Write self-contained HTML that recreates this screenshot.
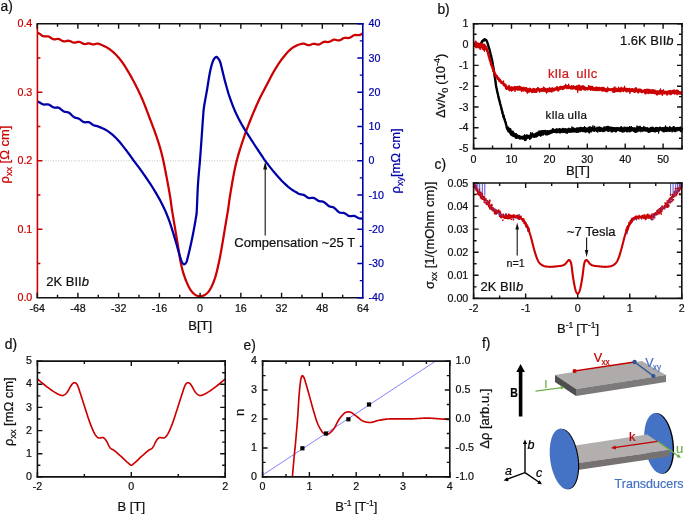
<!DOCTYPE html>
<html><head><meta charset="utf-8"><title>Figure</title>
<style>
html,body{margin:0;padding:0;background:#fff;}
body{width:685px;height:514px;overflow:hidden;}
svg{display:block;filter:blur(0.3px);font-family:"Liberation Sans",Arial,Helvetica,sans-serif;}
text{stroke-width:0.22px;stroke-linejoin:round;}
</style></head><body>
<svg width="685" height="514" viewBox="0 0 685 514">
<rect width="685" height="514" fill="#fff"/>
<line x1="37.4" y1="160.75" x2="362.8" y2="160.75" stroke="#aaa" stroke-width="0.7" stroke-dasharray="1 1.6"/>
<path d="M37.6 32.96 L38.35 33.15 L39.32 33.62 L40.48 34.42 L41.78 35.39 L43.18 36.15 L44.62 36.42 L46.07 36.32 L47.48 36.26 L48.8 36.56 L50 37.2 L51.1 37.95 L52.15 38.65 L53.18 39.14 L54.17 39.36 L55.15 39.34 L56.12 39.17 L57.08 38.99 L58.04 38.95 L59.01 39.12 L60 39.53 L61 40.11 L62 40.71 L63 41.18 L64 41.42 L65 41.39 L66 41.17 L67 40.9 L68 40.72 L69 40.77 L70 41.07 L71 41.55 L72 42.08 L73 42.51 L74 42.71 L75 42.66 L76 42.4 L77 42.06 L78 41.81 L79 41.78 L80 42.02 L81.01 42.5 L82.03 43.1 L83.06 43.65 L84.1 43.99 L85.12 44.06 L86.14 43.91 L87.15 43.66 L88.13 43.46 L89.08 43.42 L90 43.57 L90.88 43.88 L91.73 44.16 L92.55 44.35 L93.34 44.39 L94.12 44.31 L94.9 44.13 L95.66 43.93 L96.43 43.75 L97.21 43.67 L98 43.71 L98.81 43.9 L99.65 44.18 L100.49 44.49 L101.34 44.82 L102.19 45.17 L103.02 45.54 L103.82 45.92 L104.59 46.3 L105.32 46.66 L106 47 L106.62 47.32 L107.19 47.63 L107.72 47.94 L108.22 48.26 L108.69 48.57 L109.14 48.89 L109.59 49.22 L110.05 49.56 L110.51 49.92 L111 50.3 L111.5 50.7 L112 51.1 L112.5 51.52 L113 51.95 L113.5 52.39 L114 52.85 L114.5 53.32 L115 53.8 L115.5 54.29 L116 54.8 L116.5 55.32 L117 55.85 L117.5 56.39 L118 56.95 L118.5 57.52 L119 58.1 L119.5 58.7 L120 59.32 L120.5 59.95 L121 60.6 L121.49 61.25 L121.95 61.87 L122.41 62.49 L122.86 63.13 L123.31 63.79 L123.78 64.49 L124.28 65.24 L124.81 66.07 L125.38 66.99 L126 68 L126.68 69.12 L127.41 70.34 L128.18 71.64 L128.98 73 L129.81 74.43 L130.66 75.9 L131.51 77.41 L132.35 78.93 L133.19 80.47 L134 82 L134.8 83.53 L135.6 85.08 L136.4 86.64 L137.2 88.23 L138 89.84 L138.8 91.49 L139.6 93.18 L140.4 94.9 L141.2 96.68 L142 98.5 L142.8 100.39 L143.62 102.37 L144.43 104.4 L145.25 106.48 L146.06 108.59 L146.87 110.72 L147.67 112.83 L148.46 114.93 L149.24 116.99 L150 119 L150.75 120.97 L151.5 122.93 L152.24 124.87 L152.97 126.8 L153.69 128.72 L154.39 130.62 L155.08 132.49 L155.74 134.35 L156.39 136.19 L157 138 L157.59 139.77 L158.14 141.5 L158.68 143.18 L159.19 144.85 L159.69 146.5 L160.17 148.15 L160.64 149.82 L161.1 151.5 L161.55 153.23 L162 155 L162.44 156.81 L162.86 158.62 L163.27 160.46 L163.67 162.31 L164.06 164.19 L164.45 166.09 L164.83 168.02 L165.22 169.98 L165.6 171.97 L166 174 L166.41 176.11 L166.83 178.34 L167.26 180.63 L167.7 182.97 L168.12 185.31 L168.54 187.63 L168.95 189.89 L169.33 192.06 L169.68 194.11 L170 196 L170.28 197.71 L170.51 199.25 L170.72 200.66 L170.9 201.98 L171.06 203.25 L171.22 204.5 L171.39 205.76 L171.57 207.07 L171.77 208.47 L172 210 L172.26 211.64 L172.54 213.34 L172.83 215.11 L173.13 216.91 L173.44 218.75 L173.75 220.61 L174.07 222.47 L174.38 224.34 L174.7 226.18 L175 228 L175.3 229.8 L175.6 231.6 L175.9 233.4 L176.2 235.2 L176.5 237 L176.8 238.8 L177.1 240.6 L177.4 242.4 L177.7 244.2 L178 246 L178.3 247.82 L178.58 249.66 L178.87 251.53 L179.15 253.39 L179.44 255.25 L179.73 257.09 L180.03 258.89 L180.34 260.66 L180.66 262.36 L181 264 L181.35 265.58 L181.72 267.1 L182.09 268.59 L182.48 270.03 L182.88 271.44 L183.28 272.81 L183.69 274.15 L184.12 275.46 L184.56 276.74 L185 278 L185.46 279.25 L185.94 280.48 L186.43 281.69 L186.93 282.88 L187.44 284.03 L187.95 285.13 L188.47 286.19 L188.98 287.19 L189.5 288.13 L190 289 L190.5 289.8 L191 290.53 L191.5 291.2 L192 291.82 L192.5 292.39 L193 292.91 L193.5 293.38 L194 293.82 L194.5 294.23 L195 294.6 L195.5 294.94 L196 295.22 L196.5 295.47 L197 295.67 L197.5 295.84 L198 295.97 L198.5 296.07 L199 296.14 L199.5 296.18 L200 296.2 L200.5 296.2 L201 296.17 L201.5 296.12 L202 296.04 L202.5 295.93 L203 295.78 L203.5 295.6 L204 295.38 L204.5 295.11 L205 294.8 L205.5 294.46 L206 294.09 L206.5 293.69 L207 293.26 L207.5 292.78 L208 292.25 L208.5 291.67 L209 291.02 L209.5 290.3 L210 289.5 L210.5 288.62 L211.02 287.67 L211.53 286.65 L212.05 285.56 L212.56 284.42 L213.07 283.22 L213.57 281.98 L214.06 280.69 L214.54 279.36 L215 278 L215.44 276.58 L215.88 275.09 L216.31 273.53 L216.72 271.92 L217.12 270.28 L217.52 268.62 L217.91 266.94 L218.28 265.27 L218.65 263.62 L219 262 L219.34 260.41 L219.66 258.83 L219.97 257.26 L220.27 255.7 L220.56 254.12 L220.85 252.54 L221.13 250.95 L221.42 249.33 L221.7 247.68 L222 246 L222.3 244.28 L222.6 242.53 L222.9 240.75 L223.2 238.94 L223.5 237.12 L223.8 235.3 L224.1 233.46 L224.4 231.63 L224.7 229.81 L225 228 L225.3 226.18 L225.62 224.34 L225.93 222.47 L226.25 220.61 L226.56 218.75 L226.87 216.91 L227.17 215.11 L227.46 213.34 L227.74 211.64 L228 210 L228.23 208.48 L228.43 207.09 L228.61 205.79 L228.78 204.54 L228.94 203.31 L229.1 202.06 L229.28 200.74 L229.49 199.31 L229.72 197.75 L230 196 L230.32 194.04 L230.67 191.88 L231.05 189.57 L231.46 187.16 L231.88 184.69 L232.3 182.2 L232.74 179.74 L233.17 177.36 L233.59 175.1 L234 173 L234.39 171.07 L234.76 169.26 L235.12 167.55 L235.48 165.91 L235.85 164.31 L236.23 162.73 L236.62 161.13 L237.05 159.5 L237.5 157.79 L238 156 L238.54 154.11 L239.13 152.14 L239.74 150.13 L240.39 148.07 L241.05 146 L241.72 143.93 L242.4 141.87 L243.08 139.86 L243.75 137.89 L244.4 136 L245.03 134.19 L245.65 132.44 L246.26 130.74 L246.87 129.08 L247.49 127.44 L248.11 125.8 L248.75 124.15 L249.4 122.48 L250.09 120.77 L250.8 119 L251.55 117.17 L252.32 115.28 L253.13 113.35 L253.95 111.4 L254.79 109.44 L255.63 107.48 L256.48 105.54 L257.33 103.64 L258.17 101.79 L259 100 L259.82 98.27 L260.65 96.58 L261.47 94.93 L262.3 93.31 L263.13 91.72 L263.95 90.15 L264.77 88.6 L265.59 87.06 L266.4 85.53 L267.2 84 L267.99 82.48 L268.77 80.97 L269.55 79.48 L270.32 78 L271.08 76.53 L271.85 75.08 L272.62 73.66 L273.4 72.25 L274.19 70.86 L275 69.5 L275.82 68.15 L276.66 66.81 L277.5 65.49 L278.35 64.18 L279.21 62.89 L280.07 61.64 L280.93 60.42 L281.79 59.23 L282.65 58.09 L283.5 57 L284.35 55.95 L285.19 54.93 L286.03 53.94 L286.88 52.99 L287.72 52.08 L288.56 51.21 L289.41 50.39 L290.27 49.61 L291.13 48.88 L292 48.2 L292.89 47.57 L293.8 46.99 L294.73 46.45 L295.66 45.96 L296.59 45.51 L297.52 45.11 L298.43 44.76 L299.32 44.46 L300.18 44.21 L301 44 L301.77 43.81 L302.48 43.69 L303.15 43.65 L303.8 43.69 L304.44 43.82 L305.08 44.03 L305.74 44.29 L306.44 44.6 L307.19 44.9 L308 45.13 L308.87 45.21 L309.78 45.09 L310.72 44.75 L311.69 44.31 L312.69 43.94 L313.71 43.77 L314.76 43.85 L315.82 44.13 L316.91 44.46 L318 44.63 L319.13 44.47 L320.3 43.93 L321.52 43.13 L322.75 42.35 L324 41.85 L325.25 41.74 L326.48 41.89 L327.7 42.04 L328.87 41.95 L330 41.56 L331.08 40.98 L332.13 40.37 L333.15 39.91 L334.14 39.68 L335.12 39.72 L336.1 39.96 L337.06 40.25 L338.03 40.47 L339.01 40.48 L340 40.21 L340.99 39.69 L341.96 39.06 L342.92 38.45 L343.88 38 L344.85 37.77 L345.83 37.76 L346.82 37.89 L347.85 38.01 L348.9 37.97 L350 37.64 L351.2 36.97 L352.52 36.05 L353.93 35.27 L355.38 34.95 L356.82 35.06 L358.22 35.23 L359.52 35.1 L360.68 34.61 L361.65 34 L362.4 33.47" fill="none" stroke="#cc0000" stroke-width="2.25" stroke-linejoin="round" stroke-linecap="butt" />
<path d="M37.6 101.76 L38.35 101.89 L39.32 102.28 L40.48 102.98 L41.78 103.84 L43.18 104.48 L44.62 104.65 L46.07 104.45 L47.48 104.32 L48.8 104.57 L50 105.2 L51.1 105.97 L52.15 106.7 L53.18 107.24 L54.17 107.52 L55.15 107.57 L56.12 107.51 L57.08 107.46 L58.04 107.56 L59.01 107.91 L60 108.53 L61 109.34 L62 110.21 L63 110.98 L64 111.53 L65 111.84 L66 111.98 L67 112.08 L68 112.3 L69 112.76 L70 113.47 L71.01 114.41 L72.03 115.46 L73.06 116.43 L74.1 117.19 L75.12 117.67 L76.14 117.95 L77.15 118.15 L78.13 118.41 L79.08 118.83 L80 119.42 L80.89 120.1 L81.76 120.81 L82.61 121.44 L83.44 121.93 L84.25 122.22 L85.04 122.34 L85.81 122.31 L86.56 122.21 L87.29 122.11 L88 122.1 L88.65 122.18 L89.23 122.35 L89.76 122.59 L90.26 122.89 L90.75 123.26 L91.26 123.66 L91.82 124.1 L92.45 124.56 L93.17 125.01 L94 125.41 L94.97 125.71 L96.05 125.92 L97.22 126.18 L98.46 126.58 L99.75 127.13 L101.06 127.66 L102.36 128.2 L103.63 128.77 L104.85 129.37 L106 130 L107.08 130.66 L108.13 131.34 L109.15 132.05 L110.14 132.79 L111.12 133.56 L112.1 134.37 L113.06 135.21 L114.03 136.1 L115.01 137.02 L116 138 L117.01 139.04 L118.03 140.16 L119.06 141.34 L120.1 142.56 L121.12 143.81 L122.14 145.08 L123.15 146.35 L124.13 147.6 L125.08 148.82 L126 150 L126.89 151.15 L127.76 152.31 L128.61 153.47 L129.44 154.62 L130.25 155.75 L131.04 156.86 L131.81 157.95 L132.56 159.01 L133.29 160.03 L134 161 L134.68 161.92 L135.33 162.78 L135.95 163.6 L136.54 164.39 L137.12 165.16 L137.7 165.91 L138.26 166.66 L138.83 167.42 L139.41 168.19 L140 169 L140.6 169.83 L141.2 170.66 L141.8 171.5 L142.4 172.34 L143 173.19 L143.6 174.04 L144.2 174.9 L144.8 175.76 L145.4 176.63 L146 177.5 L146.6 178.38 L147.2 179.25 L147.8 180.13 L148.4 181.02 L149 181.91 L149.6 182.8 L150.2 183.71 L150.8 184.63 L151.4 185.56 L152 186.5 L152.61 187.47 L153.23 188.48 L153.86 189.51 L154.5 190.55 L155.12 191.59 L155.74 192.63 L156.35 193.65 L156.93 194.64 L157.48 195.6 L158 196.5 L158.48 197.35 L158.93 198.14 L159.35 198.9 L159.74 199.63 L160.12 200.34 L160.5 201.05 L160.86 201.76 L161.23 202.48 L161.61 203.22 L162 204 L162.4 204.8 L162.8 205.6 L163.2 206.41 L163.6 207.23 L164 208.06 L164.4 208.91 L164.8 209.77 L165.2 210.66 L165.6 211.56 L166 212.5 L166.4 213.44 L166.78 214.38 L167.17 215.33 L167.55 216.29 L167.94 217.28 L168.33 218.31 L168.73 219.38 L169.14 220.52 L169.56 221.72 L170 223 L170.46 224.37 L170.94 225.82 L171.43 227.35 L171.93 228.93 L172.44 230.56 L172.95 232.23 L173.47 233.92 L173.98 235.62 L174.5 237.31 L175 239 L175.51 240.74 L176.05 242.6 L176.6 244.52 L177.15 246.48 L177.69 248.42 L178.22 250.31 L178.73 252.1 L179.2 253.76 L179.63 255.24 L180 256.5 L180.31 257.54 L180.57 258.39 L180.79 259.07 L180.97 259.63 L181.12 260.09 L181.27 260.47 L181.41 260.8 L181.55 261.11 L181.71 261.44 L181.9 261.8 L182.11 262.18 L182.32 262.55 L182.54 262.89 L182.76 263.21 L182.99 263.5 L183.21 263.75 L183.44 263.96 L183.66 264.13 L183.88 264.24 L184.1 264.3 L184.32 264.3 L184.54 264.23 L184.76 264.12 L184.99 263.95 L185.21 263.75 L185.42 263.52 L185.63 263.26 L185.83 262.98 L186.02 262.69 L186.2 262.4 L186.35 262.13 L186.48 261.89 L186.6 261.65 L186.7 261.4 L186.79 261.11 L186.9 260.78 L187.01 260.37 L187.14 259.86 L187.3 259.25 L187.5 258.5 L187.73 257.61 L187.99 256.57 L188.28 255.43 L188.58 254.19 L188.9 252.88 L189.23 251.52 L189.55 250.13 L189.88 248.73 L190.2 247.35 L190.5 246 L190.79 244.67 L191.09 243.33 L191.38 241.97 L191.67 240.6 L191.96 239.22 L192.25 237.82 L192.54 236.39 L192.83 234.95 L193.11 233.49 L193.4 232 L193.69 230.44 L194 228.77 L194.32 227.03 L194.63 225.26 L194.94 223.5 L195.24 221.78 L195.52 220.13 L195.78 218.59 L196.01 217.2 L196.2 216 L196.35 215.09 L196.45 214.48 L196.52 214.09 L196.57 213.84 L196.6 213.62 L196.62 213.36 L196.65 212.96 L196.68 212.32 L196.73 211.37 L196.8 210 L196.89 208.2 L196.99 206.05 L197.09 203.61 L197.2 200.94 L197.31 198.12 L197.43 195.22 L197.56 192.28 L197.7 189.39 L197.84 186.61 L198 184 L198.17 181.51 L198.36 179.04 L198.55 176.59 L198.76 174.16 L198.98 171.75 L199.19 169.36 L199.4 166.99 L199.61 164.64 L199.81 162.31 L200 160 L200.18 157.71 L200.35 155.44 L200.52 153.19 L200.68 150.96 L200.84 148.75 L200.99 146.56 L201.15 144.39 L201.3 142.24 L201.45 140.11 L201.6 138 L201.75 135.88 L201.9 133.73 L202.05 131.57 L202.19 129.42 L202.34 127.31 L202.48 125.26 L202.62 123.28 L202.75 121.39 L202.88 119.63 L203 118 L203.11 116.56 L203.19 115.32 L203.27 114.23 L203.33 113.24 L203.4 112.31 L203.48 111.4 L203.57 110.46 L203.68 109.44 L203.82 108.3 L204 107 L204.22 105.55 L204.47 104 L204.75 102.37 L205.06 100.68 L205.38 98.94 L205.7 97.16 L206.04 95.36 L206.37 93.56 L206.69 91.77 L207 90 L207.3 88.21 L207.6 86.35 L207.9 84.45 L208.2 82.54 L208.5 80.62 L208.8 78.74 L209.1 76.92 L209.4 75.17 L209.7 73.52 L210 72 L210.3 70.58 L210.6 69.24 L210.9 67.97 L211.2 66.76 L211.5 65.62 L211.8 64.56 L212.1 63.56 L212.4 62.64 L212.7 61.79 L213 61 L213.3 60.29 L213.62 59.67 L213.93 59.12 L214.25 58.64 L214.56 58.23 L214.87 57.88 L215.17 57.59 L215.46 57.35 L215.74 57.15 L216 57 L216.24 56.91 L216.46 56.89 L216.67 56.94 L216.87 57.05 L217.06 57.2 L217.25 57.39 L217.43 57.6 L217.62 57.83 L217.8 58.07 L218 58.3 L218.2 58.52 L218.4 58.75 L218.6 58.98 L218.8 59.24 L219 59.51 L219.2 59.82 L219.4 60.16 L219.6 60.55 L219.8 61 L220 61.5 L220.2 62.06 L220.39 62.68 L220.59 63.36 L220.78 64.07 L220.97 64.83 L221.17 65.61 L221.37 66.43 L221.57 67.27 L221.78 68.13 L222 69 L222.22 69.91 L222.46 70.87 L222.7 71.88 L222.94 72.92 L223.19 73.97 L223.44 75.02 L223.68 76.07 L223.93 77.09 L224.17 78.07 L224.4 79 L224.63 79.88 L224.85 80.74 L225.07 81.56 L225.29 82.37 L225.51 83.16 L225.73 83.93 L225.95 84.7 L226.16 85.46 L226.38 86.23 L226.6 87 L226.81 87.75 L227.01 88.46 L227.19 89.14 L227.38 89.82 L227.57 90.5 L227.77 91.2 L227.99 91.94 L228.23 92.72 L228.49 93.57 L228.8 94.5 L229.14 95.53 L229.52 96.65 L229.93 97.84 L230.36 99.08 L230.81 100.35 L231.27 101.64 L231.74 102.91 L232.2 104.16 L232.66 105.36 L233.1 106.5 L233.54 107.58 L233.97 108.64 L234.41 109.67 L234.85 110.69 L235.29 111.68 L235.74 112.66 L236.18 113.61 L236.62 114.56 L237.06 115.48 L237.5 116.4 L237.94 117.3 L238.38 118.19 L238.83 119.05 L239.27 119.91 L239.72 120.74 L240.16 121.56 L240.6 122.37 L241.04 123.16 L241.47 123.94 L241.9 124.7 L242.3 125.42 L242.68 126.06 L243.03 126.67 L243.37 127.25 L243.73 127.84 L244.09 128.44 L244.49 129.09 L244.94 129.8 L245.43 130.6 L246 131.5 L246.64 132.52 L247.35 133.64 L248.11 134.85 L248.92 136.11 L249.76 137.43 L250.61 138.76 L251.48 140.11 L252.34 141.44 L253.18 142.74 L254 144 L254.82 145.25 L255.68 146.55 L256.56 147.87 L257.44 149.2 L258.31 150.5 L259.16 151.76 L259.97 152.97 L260.72 154.09 L261.4 155.11 L262 156 L262.48 156.72 L262.82 157.27 L263.08 157.68 L263.27 158 L263.44 158.28 L263.61 158.56 L263.82 158.87 L264.1 159.27 L264.48 159.8 L265 160.5 L265.65 161.37 L266.4 162.36 L267.23 163.45 L268.12 164.62 L269.06 165.84 L270.04 167.1 L271.04 168.37 L272.04 169.62 L273.03 170.84 L274 172 L274.96 173.13 L275.94 174.28 L276.93 175.43 L277.93 176.58 L278.94 177.72 L279.95 178.84 L280.97 179.94 L281.98 181 L283 182.02 L284 183 L284.99 183.93 L285.97 184.83 L286.94 185.7 L287.9 186.54 L288.88 187.35 L289.86 188.13 L290.85 188.89 L291.87 189.61 L292.92 190.32 L294 191 L295.12 191.65 L296.27 192.3 L297.45 193.01 L298.66 193.68 L299.88 194.18 L301.1 194.44 L302.34 194.6 L303.57 194.88 L304.79 195.48 L306 196.4 L307.2 197.29 L308.4 197.89 L309.6 198.1 L310.8 197.98 L312 197.79 L313.2 197.8 L314.4 198.17 L315.6 198.9 L316.8 199.8 L318 200.63 L319.21 201.18 L320.43 201.4 L321.66 201.47 L322.9 201.64 L324.12 202.16 L325.34 203.06 L326.55 204.19 L327.73 205.27 L328.88 206.09 L330 206.56 L331.08 206.79 L332.13 206.97 L333.15 207.28 L334.14 207.82 L335.12 208.6 L336.1 209.56 L337.06 210.57 L338.03 211.49 L339.01 212.19 L340 212.61 L340.99 212.76 L341.96 212.77 L342.92 212.8 L343.88 212.97 L344.85 213.35 L345.83 213.94 L346.82 214.66 L347.85 215.39 L348.9 215.96 L350 216.24 L351.2 216.22 L352.52 215.99 L353.93 215.92 L355.38 216.32 L356.82 217.15 L358.22 218 L359.52 218.49 L360.68 218.57 L361.65 218.43 L362.4 218.27" fill="none" stroke="#0000a8" stroke-width="2.25" stroke-linejoin="round" stroke-linecap="butt" />
<line x1="37.4" y1="23.7" x2="37.4" y2="297.8" stroke="#cc0000" stroke-width="1.6" />
<path d="M37.4 229.28L42.4 229.28M37.4 160.75L42.4 160.75M37.4 92.23L42.4 92.23" stroke="#cc0000" stroke-width="1.4" fill="none"/>
<path d="M37.4 263.54L40.4 263.54M37.4 195.01L40.4 195.01M37.4 126.49L40.4 126.49M37.4 57.96L40.4 57.96" stroke="#cc0000" stroke-width="1.4" fill="none"/>
<line x1="37.4" y1="23.7" x2="362.8" y2="23.7" stroke="#111" stroke-width="1.6" stroke-linecap="square"/>
<line x1="37.4" y1="297.8" x2="362.8" y2="297.8" stroke="#111" stroke-width="1.6" stroke-linecap="square"/>
<path d="M37.16 23.7L37.16 28.7M77.89 23.7L77.89 28.7M118.63 23.7L118.63 28.7M159.36 23.7L159.36 28.7M200.1 23.7L200.1 28.7M240.84 23.7L240.84 28.7M281.57 23.7L281.57 28.7M322.31 23.7L322.31 28.7" stroke="#111" stroke-width="1.4" fill="none"/>
<path d="M57.52 23.7L57.52 26.7M98.26 23.7L98.26 26.7M139 23.7L139 26.7M179.73 23.7L179.73 26.7M220.47 23.7L220.47 26.7M261.2 23.7L261.2 26.7M301.94 23.7L301.94 26.7M342.68 23.7L342.68 26.7" stroke="#111" stroke-width="1.4" fill="none"/>
<path d="M37.16 297.8L37.16 292.8M77.89 297.8L77.89 292.8M118.63 297.8L118.63 292.8M159.36 297.8L159.36 292.8M200.1 297.8L200.1 292.8M240.84 297.8L240.84 292.8M281.57 297.8L281.57 292.8M322.31 297.8L322.31 292.8" stroke="#111" stroke-width="1.4" fill="none"/>
<path d="M57.52 297.8L57.52 294.8M98.26 297.8L98.26 294.8M139 297.8L139 294.8M179.73 297.8L179.73 294.8M220.47 297.8L220.47 294.8M261.2 297.8L261.2 294.8M301.94 297.8L301.94 294.8M342.68 297.8L342.68 294.8" stroke="#111" stroke-width="1.4" fill="none"/>
<line x1="362.8" y1="22.9" x2="362.8" y2="298.6" stroke="#0000a8" stroke-width="1.6" />
<path d="M362.8 297.8L357.3 297.8M362.8 263.54L357.3 263.54M362.8 229.28L357.3 229.28M362.8 195.01L357.3 195.01M362.8 160.75L357.3 160.75M362.8 126.49L357.3 126.49M362.8 92.22L357.3 92.22M362.8 57.96L357.3 57.96M362.8 23.7L357.3 23.7" stroke="#0000a8" stroke-width="1.4" fill="none"/>
<path d="M362.8 280.67L359.8 280.67M362.8 246.41L359.8 246.41M362.8 212.14L359.8 212.14M362.8 177.88L359.8 177.88M362.8 143.62L359.8 143.62M362.8 109.36L359.8 109.36M362.8 75.09L359.8 75.09M362.8 40.83L359.8 40.83" stroke="#0000a8" stroke-width="1.4" fill="none"/>
<text x="37.16" y="312.2" font-size="10.7" fill="#111" stroke="#111" text-anchor="middle" >-64</text>
<text x="77.89" y="312.2" font-size="10.7" fill="#111" stroke="#111" text-anchor="middle" >-48</text>
<text x="118.63" y="312.2" font-size="10.7" fill="#111" stroke="#111" text-anchor="middle" >-32</text>
<text x="159.36" y="312.2" font-size="10.7" fill="#111" stroke="#111" text-anchor="middle" >-16</text>
<text x="200.1" y="312.2" font-size="10.7" fill="#111" stroke="#111" text-anchor="middle" >0</text>
<text x="240.84" y="312.2" font-size="10.7" fill="#111" stroke="#111" text-anchor="middle" >16</text>
<text x="281.57" y="312.2" font-size="10.7" fill="#111" stroke="#111" text-anchor="middle" >32</text>
<text x="322.31" y="312.2" font-size="10.7" fill="#111" stroke="#111" text-anchor="middle" >48</text>
<text x="363.04" y="312.2" font-size="10.7" fill="#111" stroke="#111" text-anchor="middle" >64</text>
<text x="32.3" y="301.4" font-size="10.7" fill="#cc0000" stroke="#cc0000" text-anchor="end" >0.0</text>
<text x="32.3" y="232.88" font-size="10.7" fill="#cc0000" stroke="#cc0000" text-anchor="end" >0.1</text>
<text x="32.3" y="164.35" font-size="10.7" fill="#cc0000" stroke="#cc0000" text-anchor="end" >0.2</text>
<text x="32.3" y="95.83" font-size="10.7" fill="#cc0000" stroke="#cc0000" text-anchor="end" >0.3</text>
<text x="32.3" y="27.3" font-size="10.7" fill="#cc0000" stroke="#cc0000" text-anchor="end" >0.4</text>
<text x="368.5" y="301.4" font-size="10.7" fill="#0000a8" stroke="#0000a8" text-anchor="start" >-40</text>
<text x="368.5" y="267.14" font-size="10.7" fill="#0000a8" stroke="#0000a8" text-anchor="start" >-30</text>
<text x="368.5" y="232.88" font-size="10.7" fill="#0000a8" stroke="#0000a8" text-anchor="start" >-20</text>
<text x="368.5" y="198.61" font-size="10.7" fill="#0000a8" stroke="#0000a8" text-anchor="start" >-10</text>
<text x="368.5" y="164.35" font-size="10.7" fill="#0000a8" stroke="#0000a8" text-anchor="start" >0</text>
<text x="368.5" y="130.09" font-size="10.7" fill="#0000a8" stroke="#0000a8" text-anchor="start" >10</text>
<text x="368.5" y="95.82" font-size="10.7" fill="#0000a8" stroke="#0000a8" text-anchor="start" >20</text>
<text x="368.5" y="61.56" font-size="10.7" fill="#0000a8" stroke="#0000a8" text-anchor="start" >30</text>
<text x="368.5" y="27.3" font-size="10.7" fill="#0000a8" stroke="#0000a8" text-anchor="start" >40</text>
<text x="200.2" y="330" font-size="13" fill="#111" stroke="#111" text-anchor="middle" >B[T]</text>
<text x="0" y="0" font-size="13" fill="#cc0000" stroke="#cc0000" text-anchor="start" transform="translate(8.8 183.5) rotate(-90)" >ρ<tspan font-size="9" dy="3">xx</tspan><tspan dy="-3"> [Ω cm]</tspan></text>
<text x="0" y="0" font-size="13" fill="#0000a8" stroke="#0000a8" text-anchor="start" transform="translate(399.5 193.5) rotate(-90)" >ρ<tspan font-size="9" dy="3">xy</tspan><tspan dy="-3">[mΩ cm]</tspan></text>
<text x="46.3" y="286" font-size="13" fill="#111" stroke="#111" text-anchor="start" >2K BII<tspan font-style="italic">b</tspan></text>
<text x="234.3" y="247" font-size="13" fill="#111" stroke="#111" text-anchor="start" >Compensation ~25 T</text>
<line x1="265.2" y1="168.5" x2="265.2" y2="235.5" stroke="#111" stroke-width="1.1" />
<path d="M265.2 161.5 L263.2 169.5 L267.2 169.5 Z" fill="#111"/>
<text x="0.6" y="10.8" font-size="13.8" fill="#111" stroke="#111" text-anchor="start" >a)</text>
<path d="M473.6 23.8L473.6 28.8M511.5 23.8L511.5 28.8M549.4 23.8L549.4 28.8M587.3 23.8L587.3 28.8M625.2 23.8L625.2 28.8M663.1 23.8L663.1 28.8" stroke="#111" stroke-width="1.4" fill="none"/>
<path d="M492.55 23.8L492.55 26.8M530.45 23.8L530.45 26.8M568.35 23.8L568.35 26.8M606.25 23.8L606.25 26.8M644.15 23.8L644.15 26.8M682.05 23.8L682.05 26.8" stroke="#111" stroke-width="1.4" fill="none"/>
<path d="M473.6 148.6L473.6 143.6M511.5 148.6L511.5 143.6M549.4 148.6L549.4 143.6M587.3 148.6L587.3 143.6M625.2 148.6L625.2 143.6M663.1 148.6L663.1 143.6" stroke="#111" stroke-width="1.4" fill="none"/>
<path d="M492.55 148.6L492.55 145.6M530.45 148.6L530.45 145.6M568.35 148.6L568.35 145.6M606.25 148.6L606.25 145.6M644.15 148.6L644.15 145.6M682.05 148.6L682.05 145.6" stroke="#111" stroke-width="1.4" fill="none"/>
<path d="M473.6 148.6L478.6 148.6M473.6 127.8L478.6 127.8M473.6 107L478.6 107M473.6 86.2L478.6 86.2M473.6 65.4L478.6 65.4M473.6 44.6L478.6 44.6M473.6 23.8L478.6 23.8" stroke="#111" stroke-width="1.4" fill="none"/>
<path d="M473.6 138.2L476.6 138.2M473.6 117.4L476.6 117.4M473.6 96.6L476.6 96.6M473.6 75.8L476.6 75.8M473.6 55L476.6 55M473.6 34.2L476.6 34.2" stroke="#111" stroke-width="1.4" fill="none"/>
<path d="M682 148.6L677 148.6M682 127.8L677 127.8M682 107L677 107M682 86.2L677 86.2M682 65.4L677 65.4M682 44.6L677 44.6M682 23.8L677 23.8" stroke="#111" stroke-width="1.4" fill="none"/>
<path d="M682 138.2L679 138.2M682 117.4L679 117.4M682 96.6L679 96.6M682 75.8L679 75.8M682 55L679 55M682 34.2L679 34.2" stroke="#111" stroke-width="1.4" fill="none"/>
<path d="M474.4 45.61 L474.85 45.73 L475.3 45.38 L475.75 45.64 L476.2 45.81 L476.65 45.59 L477.1 45.94 L477.55 45 L478 45.22 L478.45 44.78 L478.9 44.53 L479.35 44.46 L479.8 44.26 L480.25 43.96 L480.7 43.59 L481.15 43.71 L481.6 42.68 L482.05 41.25 L482.5 41.37 L482.95 40.65 L483.4 40.28 L483.85 40.59 L484.3 39.85 L484.75 39.18 L485.2 40.02 L485.65 39.98 L486.1 39.99 L486.55 40.65 L487 41.61 L487.45 42.9 L487.9 44.02 L488.35 45.75 L488.8 48 L489.25 48.7 L489.7 50.36 L490.15 52.24 L490.6 54.36 L491.05 55.46 L491.5 58.16 L491.95 59.38 L492.4 61.84 L492.85 64.7 L493.3 67.05 L493.75 69.89 L494.2 73.07 L494.65 76 L495.1 78.75 L495.55 81.87 L496 85.48 L496.45 87.75 L496.9 89.78 L497.35 92.36 L497.8 93.61 L498.25 95.91 L498.7 97.96 L499.15 99.57 L499.6 101.19 L500.05 103.32 L500.5 104.79 L500.95 106.51 L501.4 108.04 L501.85 110.49 L502.3 111.42 L502.75 113.56 L503.2 114.82 L503.65 116.15 L504.1 118.06 L504.55 119.48 L505 120.95 L505.45 121.86 L505.9 123.71 L506.35 125.59 L506.8 126.4" fill="none" stroke="#000" stroke-width="2.4" stroke-linejoin="round" stroke-linecap="butt" />
<path d="M506.8 126.4 L507.25 127.77 L507.7 129.03 L508.15 129.03 L508.6 130.95 L509.05 129.03 L509.5 130.62 L509.95 129.49 L510.4 132.55 L510.85 132.51 L511.3 134.18 L511.75 133.08 L512.2 132.26 L512.65 135.12 L513.1 133.5 L513.55 133.86 L514 134.96 L514.45 135.83 L514.9 135.21 L515.35 135.95 L515.8 134.6 L516.25 137.49 L516.7 136.31 L517.15 136.61 L517.6 137.11 L518.05 136.94 L518.5 137.1 L518.95 136.37 L519.4 137.09 L519.85 137.6 L520.3 138.12 L520.75 137.3 L521.2 137.49 L521.65 137.69 L522.1 137.86 L522.55 137.58 L523 137.2 L523.45 136.97 L523.9 138.15 L524.35 137.47 L524.8 137.2 L525.25 139.72 L525.7 137.69 L526.15 137.58 L526.6 136.96 L527.05 135.98 L527.5 137.49 L527.95 136.46 L528.4 136.46 L528.85 137.08 L529.3 136.95 L529.75 136.26 L530.2 135.97 L530.65 137.42 L531.1 136.16 L531.55 134.84 L532 136.06 L532.45 135.49 L532.9 135.29 L533.35 135.67 L533.8 135.22 L534.25 136.44 L534.7 134.98 L535.15 134.91 L535.6 135.48 L536.05 134.07 L536.5 135.13 L536.95 134.21 L537.4 135.02 L537.85 133.38 L538.3 134.21 L538.75 132.58 L539.2 133.33 L539.65 133.56 L540.1 133.8 L540.55 134.8 L541 134.59 L541.45 132.11 L541.9 132.44 L542.35 133.86 L542.8 133.15 L543.25 131.71 L543.7 133.02 L544.15 131.73 L544.6 131.86 L545.05 131.48 L545.5 132.16 L545.95 133.98 L546.4 132.51 L546.85 132.08 L547.3 133.98 L547.75 131.7 L548.2 131.87 L548.65 131.73 L549.1 132.19 L549.55 131.59 L550 132.86 L550.45 131.51 L550.9 132.1 L551.35 131.8 L551.8 130.94 L552.25 130.81 L552.7 131.46 L553.15 129.74 L553.6 131.42 L554.05 131.43 L554.5 131.44 L554.95 131.23 L555.4 131.52 L555.85 130.95 L556.3 131.66 L556.75 129.92 L557.2 131.79 L557.65 130.41 L558.1 131.4 L558.55 130.66 L559 130.66 L559.45 130.36 L559.9 131.92 L560.35 130.08 L560.8 129.96 L561.25 131 L561.7 131.01 L562.15 130.82 L562.6 130.04 L563.05 130.25 L563.5 131.4 L563.95 129.92 L564.4 131.13 L564.85 131.19 L565.3 130.73 L565.75 129.7 L566.2 132.01 L566.65 130.66 L567.1 130.69 L567.55 130.24 L568 129.79 L568.45 130.28 L568.9 130.6 L569.35 129.8 L569.8 130.5 L570.25 131.25 L570.7 130.69 L571.15 130.27 L571.6 131.11 L572.05 130.99 L572.5 130.95 L572.95 129.66 L573.4 128.88 L573.85 130.81 L574.3 130.24 L574.75 129.9 L575.2 130.52 L575.65 129.8 L576.1 129.66 L576.55 131.45 L577 128.89 L577.45 130.69 L577.9 130.8 L578.35 131.35 L578.8 130.19 L579.25 130.37 L579.7 129.28 L580.15 129.97 L580.6 128.36 L581.05 129.49 L581.5 129.88 L581.95 129.8 L582.4 129.5 L582.85 130.71 L583.3 128.64 L583.75 129.91 L584.2 129.5 L584.65 129.8 L585.1 129.8 L585.55 131.2 L586 128.93 L586.45 130.71 L586.9 130.74 L587.35 129.58 L587.8 129.2 L588.25 128.72 L588.7 128.98 L589.15 131.13 L589.6 127.97 L590.05 129.91 L590.5 129.04 L590.95 130.96 L591.4 129.77 L591.85 128.51 L592.3 129.12 L592.75 129.64 L593.2 129.57 L593.65 128.76 L594.1 129.25 L594.55 129.11 L595 129.8 L595.45 129.64 L595.9 129.59 L596.35 128.97 L596.8 129.99 L597.25 128.98 L597.7 128.77 L598.15 129.06 L598.6 129.13 L599.05 129.14 L599.5 127.92 L599.95 130.37 L600.4 129.81 L600.85 130.33 L601.3 129.04 L601.75 129.89 L602.2 129.47 L602.65 129.34 L603.1 130.65 L603.55 128.86 L604 129.73 L604.45 128 L604.9 129.71 L605.35 129.16 L605.8 128.52 L606.25 128.83 L606.7 127.69 L607.15 128.47 L607.6 129.39 L608.05 127.29 L608.5 130.06 L608.95 129.98 L609.4 128.68 L609.85 128.13 L610.3 128.19 L610.75 128.28 L611.2 128.67 L611.65 130.85 L612.1 128.38 L612.55 129.79 L613 130.15 L613.45 128.51 L613.9 129.02 L614.35 129.72 L614.8 128.72 L615.25 130.14 L615.7 130.81 L616.15 129.17 L616.6 128.59 L617.05 129.65 L617.5 129.45 L617.95 128.64 L618.4 129.1 L618.85 129.27 L619.3 129.58 L619.75 130.06 L620.2 128.84 L620.65 128.23 L621.1 127.99 L621.55 130.59 L622 128.89 L622.45 128.9 L622.9 131.05 L623.35 130.04 L623.8 130.89 L624.25 129.08 L624.7 128.7 L625.15 128.82 L625.6 129.71 L626.05 129.54 L626.5 129.53 L626.95 130.92 L627.4 130.25 L627.85 128.42 L628.3 129.57 L628.75 129.69 L629.2 128.69 L629.65 130.99 L630.1 129.94 L630.55 130.39 L631 128.86 L631.45 128.41 L631.9 129.84 L632.35 129.13 L632.8 128.84 L633.25 129.22 L633.7 129.44 L634.15 129.4 L634.6 129.14 L635.05 129.65 L635.5 131.48 L635.95 130.19 L636.4 128.93 L636.85 130.85 L637.3 128.96 L637.75 128.16 L638.2 128.29 L638.65 127.8 L639.1 130.2 L639.55 128.51 L640 128.27 L640.45 128.92 L640.9 129.2 L641.35 128.42 L641.8 128.92 L642.25 129.35 L642.7 129.85 L643.15 128.65 L643.6 129.79 L644.05 129.56 L644.5 129.78 L644.95 128.97 L645.4 128.5 L645.85 130.1 L646.3 129.82 L646.75 128.88 L647.2 128.8 L647.65 129.91 L648.1 130.9 L648.55 129.66 L649 131.29 L649.45 129.63 L649.9 129.65 L650.35 129.76 L650.8 130.21 L651.25 128.26 L651.7 129.51 L652.15 130.35 L652.6 128.22 L653.05 129.58 L653.5 129.96 L653.95 130.69 L654.4 130.57 L654.85 129.37 L655.3 130.95 L655.75 128.56 L656.2 128.34 L656.65 130.4 L657.1 129.9 L657.55 128.53 L658 130.21 L658.45 130.04 L658.9 129.94 L659.35 129.05 L659.8 128.42 L660.25 128.11 L660.7 129.22 L661.15 129.27 L661.6 129 L662.05 128.96 L662.5 130.08 L662.95 128.52 L663.4 128.82 L663.85 130.87 L664.3 128.89 L664.75 128.89 L665.2 130.17 L665.65 128.01 L666.1 130.59 L666.55 128.4 L667 128.73 L667.45 128.39 L667.9 128.64 L668.35 128.8 L668.8 130.06 L669.25 129.3 L669.7 130.39 L670.15 129.93 L670.6 128.41 L671.05 129.36 L671.5 128.88 L671.95 129.02 L672.4 129.43 L672.85 129.62 L673.3 129.66 L673.75 127.73 L674.2 129.21 L674.65 128.98 L675.1 130.72 L675.55 129.14 L676 129.29 L676.45 129.32 L676.9 129.9 L677.35 128.45 L677.8 129.21 L678.25 129.22 L678.7 129.29 L679.15 129.11 L679.6 128.89 L680.05 129.37 L680.5 128.3 L680.95 130.52 L681.4 129.29 L681.85 127.92" fill="none" stroke="#000" stroke-width="3.2" stroke-linejoin="round" stroke-linecap="butt" />
<path d="M474.4 45.66 L474.7 46.33 L475 45 L475.3 46.14 L475.6 45.37 L475.9 45.35 L476.2 46.63 L476.5 45.56 L476.8 45.4 L477.1 45.83 L477.4 46.02 L477.7 45.26 L478 45.55 L478.3 44.51 L478.6 44.74 L478.9 44.54 L479.2 43.82 L479.5 43.51 L479.8 43.21 L480.1 43.8 L480.4 43.58 L480.7 43.22 L481 43.14 L481.3 41.94 L481.6 42.33 L481.9 42.14 L482.2 42.08 L482.5 40.79 L482.8 40.77 L483.1 39.52 L483.4 40.16 L483.7 38.91 L484 39.19 L484.3 40.59 L484.6 38.55 L484.9 40.35 L485.2 40.11 L485.5 39.82 L485.8 40.44 L486.1 40.72 L486.4 41.37 L486.7 41.09 L487 41.48 L487.3 42.17 L487.6 42.71 L487.9 44.14 L488.2 44.71 L488.5 46.92 L488.8 46.23 L489.1 47.77 L489.4 48.96 L489.7 49.39 L490 52.91 L490.3 51.43 L490.6 53.8 L490.9 54.8 L491.2 57.32 L491.5 56.47 L491.8 59.73 L492.1 60.16 L492.4 62.11 L492.7 63.46 L493 65.97 L493.3 66.67 L493.6 69.13 L493.9 71.25 L494.2 74.02 L494.5 73.36 L494.8 77.62 L495.1 79.28 L495.4 80.58 L495.7 83.21 L496 84.73 L496.3 87.78 L496.6 88.53 L496.9 89.74 L497.2 91.13 L497.5 92.49 L497.8 93.82 L498.1 94.68 L498.4 97.71 L498.7 96.58 L499 96.8 L499.3 100.11 L499.6 101.31 L499.9 102.82 L500.2 103.47 L500.5 104.74 L500.8 106.67 L501.1 108.83 L501.4 107.68 L501.7 108.9 L502 113.67 L502.3 112.46 L502.6 111.07 L502.9 117.38 L503.2 115.93 L503.5 114.78 L503.8 114.89 L504.1 118.3 L504.4 117.54 L504.7 118.21 L505 118.83 L505.3 121.07 L505.6 124.58 L505.9 123 L506.2 122.21 L506.5 126.39 L506.8 126.14 L507.1 128.06 L507.4 129.25 L507.7 127.64 L508 128.23 L508.3 128.91 L508.6 127.66 L508.9 131.02 L509.2 132.57 L509.5 131.07 L509.8 130.81 L510.1 131.15 L510.4 130.68 L510.7 130.98 L511 131.96 L511.3 131.56 L511.6 132.51 L511.9 130.98 L512.2 134.34 L512.5 134.12 L512.8 132.43 L513.1 130.83 L513.4 134.7 L513.7 136.68 L514 133.92 L514.3 134.5 L514.6 134.52 L514.9 136.64 L515.2 134.27 L515.5 137.45 L515.8 135.52 L516.1 137.61 L516.4 136.3 L516.7 135.99 L517 134.1 L517.3 135.47 L517.6 136.25 L517.9 137.82 L518.2 137.25 L518.5 135.83 L518.8 137.68 L519.1 138.69 L519.4 136.94 L519.7 136.54 L520 136.66 L520.3 138.64 L520.6 138.24 L520.9 135.92 L521.2 138.02 L521.5 136.67 L521.8 136.24 L522.1 139.42 L522.4 138.74 L522.7 136.25 L523 137.52 L523.3 138.17 L523.6 136.32 L523.9 137.12 L524.2 138.34 L524.5 134.37 L524.8 137.71 L525.1 138.32 L525.4 137.89 L525.7 134.88 L526 137.48 L526.3 135.52 L526.6 137.75 L526.9 137.74 L527.2 137.05 L527.5 135.41 L527.8 135.62 L528.1 137.86 L528.4 134.98 L528.7 137.14 L529 137.09 L529.3 135.75 L529.6 139.95 L529.9 136.15 L530.2 139.39 L530.5 132.66 L530.8 132.21 L531.1 137.3 L531.4 136.67 L531.7 135.07 L532 135.41 L532.3 132.37 L532.6 134.34 L532.9 133.61 L533.2 134.84 L533.5 136.54 L533.8 135.13 L534.1 135.57 L534.4 133.79 L534.7 134.13 L535 134.94 L535.3 134.23 L535.6 136.63 L535.9 133.13 L536.2 137.48 L536.5 132.8 L536.8 135.99 L537.1 132.98 L537.4 136.77 L537.7 134.27 L538 134.61 L538.3 135.09 L538.6 132.8 L538.9 132.07 L539.2 130.42 L539.5 135.54 L539.8 132.39 L540.1 132.49 L540.4 133.31 L540.7 136.47 L541 130.45 L541.3 133.55 L541.6 132.45 L541.9 133.86 L542.2 130.07 L542.5 132.25 L542.8 134.17 L543.1 135.26 L543.4 135.27 L543.7 131.29 L544 132.69 L544.3 132.37 L544.6 130.3 L544.9 130.15 L545.2 133.61 L545.5 132.75 L545.8 132.08 L546.1 134.21 L546.4 130.62 L546.7 133.03 L547 132.16 L547.3 132.01 L547.6 132.85 L547.9 132.3 L548.2 132.41 L548.5 132.37 L548.8 135.01 L549.1 131.38 L549.4 133.46 L549.7 132.78 L550 131.21 L550.3 133.01 L550.6 130.34 L550.9 133.53 L551.2 130.35 L551.5 130.83 L551.8 132.1 L552.1 132.89 L552.4 132.98 L552.7 132.93 L553 131.14 L553.3 129.91 L553.6 132.29 L553.9 131.87 L554.2 129.83 L554.5 132.89 L554.8 131.62 L555.1 129.75 L555.4 131.96 L555.7 129.11 L556 129.8 L556.3 131.82 L556.6 128.66 L556.9 131.19 L557.2 128.94 L557.5 132.26 L557.8 129.9 L558.1 131.33 L558.4 128.61 L558.7 130.45 L559 132.49 L559.3 131.69 L559.6 128 L559.9 132.4 L560.2 132.33 L560.5 130.28 L560.8 133.13 L561.1 129.15 L561.4 130.69 L561.7 132.6 L562 132.89 L562.3 132.83 L562.6 129.01 L562.9 127.9 L563.2 131.36 L563.5 128.43 L563.8 130.49 L564.1 128.64 L564.4 132.37 L564.7 131.94 L565 131.53 L565.3 130.66 L565.6 130.69 L565.9 130.12 L566.2 131.2 L566.5 130.97 L566.8 131.29 L567.1 129.85 L567.4 133.56 L567.7 130.96 L568 132.73 L568.3 132.61 L568.6 129.06 L568.9 127.76 L569.2 132.45 L569.5 129.8 L569.8 130.54 L570.1 129.98 L570.4 130.59 L570.7 128.46 L571 130.19 L571.3 129.59 L571.6 130.3 L571.9 126.57 L572.2 131.61 L572.5 130.81 L572.8 127.5 L573.1 129.08 L573.4 130.29 L573.7 131.23 L574 130.21 L574.3 132.41 L574.6 130.22 L574.9 128.57 L575.2 129.07 L575.5 131.33 L575.8 129.15 L576.1 131.46 L576.4 131.74 L576.7 131.03 L577 131.71 L577.3 129.79 L577.6 130.04 L577.9 129.09 L578.2 129.05 L578.5 127.51 L578.8 129.11 L579.1 128.28 L579.4 127.69 L579.7 130.2 L580 130.68 L580.3 129.4 L580.6 132.12 L580.9 131.42 L581.2 131.58 L581.5 128.93 L581.8 127.5 L582.1 130.76 L582.4 130.35 L582.7 131.01 L583 130.5 L583.3 131.84 L583.6 129.35 L583.9 130.87 L584.2 128.36 L584.5 126.09 L584.8 129.06 L585.1 132.16 L585.4 127.07 L585.7 131.36 L586 128.64 L586.3 129.07 L586.6 129.77 L586.9 130.03 L587.2 128.12 L587.5 129.87 L587.8 130.36 L588.1 130.98 L588.4 128.42 L588.7 132.1 L589 132.66 L589.3 133.46 L589.6 127.44 L589.9 129.85 L590.2 126.59 L590.5 130.16 L590.8 130.43 L591.1 127.7 L591.4 126.99 L591.7 129.82 L592 130.52 L592.3 128.23 L592.6 129.08 L592.9 125.44 L593.2 128.35 L593.5 129.71 L593.8 129.71 L594.1 131.99 L594.4 127.62 L594.7 125.84 L595 130.16 L595.3 128.48 L595.6 129.88 L595.9 130.57 L596.2 130.38 L596.5 131.72 L596.8 131.57 L597.1 126.73 L597.4 129.29 L597.7 132.59 L598 128.73 L598.3 130.93 L598.6 129.28 L598.9 128.7 L599.2 131.9 L599.5 131.03 L599.8 128.97 L600.1 130.8 L600.4 127.25 L600.7 128.18 L601 130.78 L601.3 129.4 L601.6 127.63 L601.9 130.05 L602.2 129.85 L602.5 131.37 L602.8 130.85 L603.1 128.87 L603.4 128.53 L603.7 129.08 L604 128.93 L604.3 131.64 L604.6 131.83 L604.9 131.46 L605.2 129.89 L605.5 128.89 L605.8 130.72 L606.1 128.72 L606.4 129.65 L606.7 126.6 L607 128.59 L607.3 131.57 L607.6 127.62 L607.9 126.87 L608.2 128.99 L608.5 131.92 L608.8 131.57 L609.1 128.67 L609.4 128.48 L609.7 129.07 L610 127.75 L610.3 129.3 L610.6 128.76 L610.9 126.87 L611.2 128.3 L611.5 128.82 L611.8 127.85 L612.1 127.43 L612.4 130.67 L612.7 132.26 L613 128.76 L613.3 128.54 L613.6 130.02 L613.9 128.85 L614.2 127.96 L614.5 131.44 L614.8 127.55 L615.1 128.04 L615.4 128.15 L615.7 127.79 L616 128.83 L616.3 130.13 L616.6 131.51 L616.9 130.26 L617.2 129.26 L617.5 127.2 L617.8 129.1 L618.1 127.7 L618.4 129.05 L618.7 130.77 L619 129.53 L619.3 128.86 L619.6 128 L619.9 129.16 L620.2 129.38 L620.5 127.72 L620.8 128.39 L621.1 130.61 L621.4 126.55 L621.7 128.49 L622 127.34 L622.3 131.68 L622.6 130.17 L622.9 130.03 L623.2 129.84 L623.5 129.67 L623.8 129.68 L624.1 126.68 L624.4 129.63 L624.7 130.17 L625 126.93 L625.3 130.54 L625.6 130.29 L625.9 126.79 L626.2 128.47 L626.5 128.73 L626.8 128.39 L627.1 129.86 L627.4 127.19 L627.7 128.88 L628 129.6 L628.3 130.4 L628.6 129.32 L628.9 128.86 L629.2 130.35 L629.5 126.07 L629.8 130.75 L630.1 128.76 L630.4 127.26 L630.7 128.57 L631 126.33 L631.3 125.99 L631.6 128.74 L631.9 128.03 L632.2 130.45 L632.5 127.86 L632.8 127.21 L633.1 127.75 L633.4 132.03 L633.7 129.33 L634 128.31 L634.3 127.71 L634.6 127.54 L634.9 129.03 L635.2 129.98 L635.5 131.15 L635.8 131.14 L636.1 129.74 L636.4 128.26 L636.7 127.94 L637 125.62 L637.3 127.69 L637.6 130 L637.9 128.78 L638.2 129.92 L638.5 127.17 L638.8 130.77 L639.1 129.81 L639.4 129.41 L639.7 129.98 L640 125.77 L640.3 128.45 L640.6 127.91 L640.9 132.25 L641.2 129.06 L641.5 128.55 L641.8 130.72 L642.1 127.67 L642.4 131.64 L642.7 128.24 L643 129.27 L643.3 127.9 L643.6 130.66 L643.9 125.9 L644.2 130.48 L644.5 128.07 L644.8 129.46 L645.1 127.54 L645.4 129.75 L645.7 129.68 L646 130.33 L646.3 129.89 L646.6 130.39 L646.9 130.98 L647.2 128.77 L647.5 127.51 L647.8 127.35 L648.1 130.48 L648.4 128.79 L648.7 131.08 L649 129.47 L649.3 127.78 L649.6 130.85 L649.9 132.51 L650.2 129.11 L650.5 127.9 L650.8 128.05 L651.1 130.82 L651.4 128.46 L651.7 128.75 L652 130.5 L652.3 129.42 L652.6 129.59 L652.9 128.53 L653.2 128.38 L653.5 129.66 L653.8 129.65 L654.1 130.35 L654.4 128.6 L654.7 129.95 L655 130.16 L655.3 129.53 L655.6 130.31 L655.9 131.02 L656.2 129.72 L656.5 129.52 L656.8 127.85 L657.1 129.92 L657.4 129.25 L657.7 128.9 L658 128.07 L658.3 130.31 L658.6 133.49 L658.9 130.08 L659.2 129.53 L659.5 130.09 L659.8 128.44 L660.1 129.54 L660.4 128.33 L660.7 128.36 L661 129.76 L661.3 129.75 L661.6 129.21 L661.9 128.11 L662.2 129.8 L662.5 127.64 L662.8 130.62 L663.1 128.83 L663.4 129.38 L663.7 130.64 L664 130.27 L664.3 127.31 L664.6 128.98 L664.9 129.96 L665.2 127.63 L665.5 125.52 L665.8 129.26 L666.1 129.29 L666.4 130.05 L666.7 129.5 L667 129.58 L667.3 129.75 L667.6 131.56 L667.9 130.14 L668.2 130.23 L668.5 128.73 L668.8 131.16 L669.1 129.06 L669.4 130.54 L669.7 125.98 L670 129.75 L670.3 129.2 L670.6 128.61 L670.9 131.41 L671.2 130 L671.5 129.12 L671.8 128.51 L672.1 132.34 L672.4 130.54 L672.7 130.39 L673 128.12 L673.3 131.42 L673.6 130.23 L673.9 128.91 L674.2 129.17 L674.5 126.73 L674.8 130.37 L675.1 127.59 L675.4 130.68 L675.7 128.63 L676 128.33 L676.3 129.91 L676.6 129.66 L676.9 127.52 L677.2 129.2 L677.5 130.29 L677.8 128.92 L678.1 127.17 L678.4 128.93 L678.7 127.78 L679 128.39 L679.3 129.39 L679.6 129.23 L679.9 128.97 L680.2 126.67 L680.5 129.86 L680.8 128.99 L681.1 128.65 L681.4 129.55 L681.7 132.37 L682 127.24" fill="none" stroke="#000" stroke-width="1" stroke-linejoin="round" stroke-linecap="butt" />
<path d="M474.5 46 L474.95 43.25 L475.4 44.47 L475.85 45.48 L476.3 47.16 L476.75 45.39 L477.2 43.4 L477.65 45.77 L478.1 43.96 L478.55 46.88 L479 45.12 L479.45 47.59 L479.9 45.33 L480.35 44.31 L480.8 43.83 L481.25 45.21 L481.7 46.24 L482.15 47.21 L482.6 46.21 L483.05 45.15 L483.5 46.83 L483.95 44.75 L484.4 47.37 L484.85 46.17 L485.3 47.96 L485.75 48.25 L486.2 48.63 L486.65 48.92 L487.1 50.44 L487.55 51.58 L488 52.72 L488.45 54.3 L488.9 56.63 L489.35 57.68 L489.8 59.5 L490.25 61.28 L490.7 61.7 L491.15 64.27 L491.6 65.42 L492.05 66.24 L492.5 67.5 L492.95 68.73 L493.4 70.76 L493.85 70.72 L494.3 73.02 L494.75 73.69 L495.2 74.21 L495.65 74.98 L496.1 75.66 L496.55 76.31 L497 77.31 L497.45 77.34 L497.9 78.61 L498.35 79.12 L498.8 79.18 L499.25 79.95 L499.7 80.01 L500.15 80.67 L500.6 81.28 L501.05 82.23 L501.5 81.99 L501.95 82.4 L502.4 82.91 L502.85 83.27 L503.3 83.39 L503.75 84.86 L504.2 84.41 L504.65 84.83 L505.1 85.19 L505.55 86.08 L506 87.26 L506.45 88.71 L506.9 87.62" fill="none" stroke="#cc0000" stroke-width="2.5" stroke-linejoin="round" stroke-linecap="butt" />
<path d="M506.9 87.62 L507.35 87.49 L507.8 87.53 L508.25 87.12 L508.7 88.6 L509.15 88.24 L509.6 89.95 L510.05 88.44 L510.5 88.05 L510.95 87.56 L511.4 87.67 L511.85 89.41 L512.3 89.26 L512.75 88.24 L513.2 87.96 L513.65 89.21 L514.1 88.73 L514.55 89.09 L515 88.87 L515.45 88.28 L515.9 87.55 L516.35 88.82 L516.8 88.74 L517.25 88.76 L517.7 89.26 L518.15 89.22 L518.6 88.21 L519.05 88.97 L519.5 87.04 L519.95 89.08 L520.4 88.63 L520.85 89.43 L521.3 89.49 L521.75 88.21 L522.2 88.88 L522.65 89.86 L523.1 88.8 L523.55 89.35 L524 88.98 L524.45 89.94 L524.9 89.85 L525.35 89.18 L525.8 88.87 L526.25 88.42 L526.7 90.69 L527.15 89.87 L527.6 89.79 L528.05 90 L528.5 89.79 L528.95 90.99 L529.4 90.99 L529.85 89 L530.3 90.58 L530.75 90.69 L531.2 90.38 L531.65 90.66 L532.1 91.75 L532.55 90.75 L533 91.33 L533.45 91.15 L533.9 89.3 L534.35 91.57 L534.8 90.4 L535.25 89.98 L535.7 90.71 L536.15 91.63 L536.6 89.42 L537.05 89.43 L537.5 90.1 L537.95 88.53 L538.4 88.94 L538.85 89.72 L539.3 90.18 L539.75 90.01 L540.2 90.2 L540.65 90.37 L541.1 89.3 L541.55 89.38 L542 89.44 L542.45 89.47 L542.9 90.54 L543.35 90.42 L543.8 88.39 L544.25 90.25 L544.7 89.2 L545.15 89.2 L545.6 90.95 L546.05 90.99 L546.5 90.89 L546.95 90.54 L547.4 91.33 L547.85 89.2 L548.3 90.57 L548.75 89.45 L549.2 89.45 L549.65 88.65 L550.1 90.85 L550.55 90.96 L551 90.25 L551.45 89.14 L551.9 89.61 L552.35 88.64 L552.8 89.13 L553.25 90.33 L553.7 90.31 L554.15 89.56 L554.6 89.56 L555.05 88.82 L555.5 89.09 L555.95 88.63 L556.4 89 L556.85 88.12 L557.3 89.21 L557.75 88.24 L558.2 88.47 L558.65 88.15 L559.1 89.26 L559.55 88.74 L560 87.44 L560.45 87.26 L560.9 88.27 L561.35 87.85 L561.8 87.51 L562.25 87.74 L562.7 88.67 L563.15 87.33 L563.6 88.32 L564.05 86.85 L564.5 86.95 L564.95 87.27 L565.4 86.92 L565.85 86.57 L566.3 86.12 L566.75 86.61 L567.2 86.54 L567.65 86.82 L568.1 87.56 L568.55 87.19 L569 87.66 L569.45 87.02 L569.9 87.22 L570.35 87.38 L570.8 87.49 L571.25 87.74 L571.7 86.66 L572.15 87.42 L572.6 87.3 L573.05 88.08 L573.5 87.87 L573.95 86.92 L574.4 87.68 L574.85 87.94 L575.3 87.53 L575.75 88.45 L576.2 87.8 L576.65 86.76 L577.1 87.94 L577.55 88.33 L578 87.25 L578.45 88.37 L578.9 85.97 L579.35 89.4 L579.8 87 L580.25 87.69 L580.7 87.83 L581.15 87.08 L581.6 88.31 L582.05 87.46 L582.5 87.16 L582.95 86.47 L583.4 88.59 L583.85 88.93 L584.3 87.9 L584.75 88.25 L585.2 89.23 L585.65 88.39 L586.1 88.94 L586.55 88.86 L587 88.69 L587.45 88.57 L587.9 89.05 L588.35 88.4 L588.8 88.36 L589.25 87.79 L589.7 86.86 L590.15 87.71 L590.6 88.16 L591.05 89.17 L591.5 88.21 L591.95 87.09 L592.4 89.01 L592.85 89.44 L593.3 88.83 L593.75 88.85 L594.2 88.87 L594.65 88.66 L595.1 89.74 L595.55 88.19 L596 88.28 L596.45 87.81 L596.9 88.52 L597.35 88.43 L597.8 88.49 L598.25 89.13 L598.7 89.77 L599.15 88.09 L599.6 89.18 L600.05 88.63 L600.5 88.68 L600.95 88.87 L601.4 89.49 L601.85 88.11 L602.3 90.36 L602.75 89.26 L603.2 88.83 L603.65 88.24 L604.1 90.17 L604.55 89.93 L605 90.09 L605.45 89.6 L605.9 90.76 L606.35 90.66 L606.8 91.09 L607.25 89.84 L607.7 90.29 L608.15 89.36 L608.6 89.74 L609.05 89.44 L609.5 89.72 L609.95 89.75 L610.4 89.73 L610.85 89.72 L611.3 89.85 L611.75 89.45 L612.2 89.26 L612.65 89.43 L613.1 90.23 L613.55 90.29 L614 90.55 L614.45 91.51 L614.9 89.06 L615.35 90.39 L615.8 88.87 L616.25 89.39 L616.7 89.23 L617.15 89.85 L617.6 90.74 L618.05 90.9 L618.5 90.06 L618.95 90.51 L619.4 90.13 L619.85 88.94 L620.3 91.01 L620.75 89.4 L621.2 89.46 L621.65 89.79 L622.1 89.16 L622.55 89.4 L623 90.4 L623.45 89.19 L623.9 89.42 L624.35 88.67 L624.8 88.56 L625.25 90.14 L625.7 90.23 L626.15 89.68 L626.6 91.18 L627.05 89.27 L627.5 90.37 L627.95 89.5 L628.4 90.02 L628.85 90.42 L629.3 89.13 L629.75 91.1 L630.2 90.08 L630.65 90.22 L631.1 90.09 L631.55 90.5 L632 89.4 L632.45 89.46 L632.9 90.6 L633.35 90.23 L633.8 90.14 L634.25 90.69 L634.7 91.61 L635.15 89.81 L635.6 88.83 L636.05 90.38 L636.5 89.44 L636.95 90.52 L637.4 90.06 L637.85 90.81 L638.3 92.15 L638.75 90.8 L639.2 89.71 L639.65 90.16 L640.1 90.23 L640.55 90 L641 91.39 L641.45 91.24 L641.9 91.87 L642.35 91.77 L642.8 91.13 L643.25 90.85 L643.7 90.94 L644.15 91.31 L644.6 90.89 L645.05 90.27 L645.5 93.1 L645.95 92.48 L646.4 91.31 L646.85 91.21 L647.3 91.31 L647.75 91.91 L648.2 91.4 L648.65 90.09 L649.1 91.86 L649.55 92.08 L650 90.76 L650.45 90.73 L650.9 91.7 L651.35 91.01 L651.8 92.54 L652.25 92.44 L652.7 90.63 L653.15 92.21 L653.6 90.85 L654.05 91.4 L654.5 92.88 L654.95 91.76 L655.4 92.43 L655.85 91.67 L656.3 93.44 L656.75 92.02 L657.2 94.21 L657.65 92.45 L658.1 91.81 L658.55 92.14 L659 91.91 L659.45 93.2 L659.9 91.38 L660.35 92.78 L660.8 93.21 L661.25 92.96 L661.7 91.25 L662.15 93.14 L662.6 92.83 L663.05 93.05 L663.5 91.54 L663.95 92.39 L664.4 93.12 L664.85 92.39 L665.3 92.47 L665.75 92.04 L666.2 92.23 L666.65 92.38 L667.1 94.21 L667.55 92.31 L668 92.05 L668.45 91.7 L668.9 92.76 L669.35 92.61 L669.8 92.13 L670.25 91.3 L670.7 93.9 L671.15 92.44 L671.6 92.05 L672.05 92.77 L672.5 91.97 L672.95 92.44 L673.4 91.23 L673.85 92.24 L674.3 90.78 L674.75 93.26 L675.2 92.66 L675.65 92.51 L676.1 92.72 L676.55 91.73 L677 92.74 L677.45 92.76 L677.9 93.41 L678.35 92.28 L678.8 92.44 L679.25 92.78 L679.7 93.01 L680.15 92.95 L680.6 93.09 L681.05 93.54 L681.5 93.12 L681.95 93.2" fill="none" stroke="#cc0000" stroke-width="2.8" stroke-linejoin="round" stroke-linecap="butt" />
<path d="M474.5 43.04 L474.8 43.11 L475.1 46.74 L475.4 40.81 L475.7 45.11 L476 40.88 L476.3 47.59 L476.6 45.79 L476.9 48.1 L477.2 44.38 L477.5 46.19 L477.8 44.82 L478.1 43.92 L478.4 45.7 L478.7 42.9 L479 44.72 L479.3 46.84 L479.6 45.58 L479.9 44.67 L480.2 49.9 L480.5 45.67 L480.8 44.42 L481.1 45.94 L481.4 44.62 L481.7 44.94 L482 45.06 L482.3 49.87 L482.6 45.94 L482.9 46.33 L483.2 47.44 L483.5 50.26 L483.8 45.94 L484.1 45.32 L484.4 51.71 L484.7 44.04 L485 46.78 L485.3 48.17 L485.6 50.24 L485.9 47.04 L486.2 45.83 L486.5 49.73 L486.8 49 L487.1 49.82 L487.4 51.53 L487.7 52.17 L488 53.23 L488.3 53.5 L488.6 56.49 L488.9 57.84 L489.2 57.31 L489.5 57.84 L489.8 60.15 L490.1 60.84 L490.4 60.12 L490.7 61.71 L491 64.33 L491.3 64.02 L491.6 64.71 L491.9 66.23 L492.2 66.89 L492.5 67.83 L492.8 66.6 L493.1 71.52 L493.4 70.65 L493.7 70.27 L494 73.08 L494.3 73.04 L494.6 73.36 L494.9 75.07 L495.2 76.94 L495.5 75.54 L495.8 77.12 L496.1 78.16 L496.4 75.06 L496.7 76.01 L497 77.85 L497.3 75.54 L497.6 77.54 L497.9 79.65 L498.2 79.74 L498.5 79.58 L498.8 77.19 L499.1 82.17 L499.4 80.5 L499.7 81.04 L500 81.04 L500.3 78.91 L500.6 79.52 L500.9 80.06 L501.2 83.81 L501.5 81.09 L501.8 82.04 L502.1 82.32 L502.4 83.52 L502.7 83.74 L503 83.77 L503.3 82.38 L503.6 80.6 L503.9 84.52 L504.2 84.92 L504.5 86.25 L504.8 85.06 L505.1 84.59 L505.4 86.28 L505.7 83.79 L506 84.76 L506.3 85.06 L506.6 87.1 L506.9 89.85 L507.2 88.21 L507.5 88.95 L507.8 87.88 L508.1 88.13 L508.4 87.29 L508.7 87.69 L509 84.84 L509.3 86.69 L509.6 86.69 L509.9 89.77 L510.2 89.61 L510.5 90.35 L510.8 91 L511.1 88.44 L511.4 90.4 L511.7 91.7 L512 88.99 L512.3 90.54 L512.6 88.81 L512.9 86.79 L513.2 89.21 L513.5 87.88 L513.8 89.16 L514.1 88.33 L514.4 89.4 L514.7 85.93 L515 91.8 L515.3 90.75 L515.6 88.32 L515.9 87.5 L516.2 88.74 L516.5 89.65 L516.8 89.27 L517.1 89.21 L517.4 85.86 L517.7 87.01 L518 90.46 L518.3 88.9 L518.6 86.43 L518.9 87.34 L519.2 86.53 L519.5 87.14 L519.8 90.24 L520.1 88.3 L520.4 90.23 L520.7 88.95 L521 86.6 L521.3 87.87 L521.6 92.09 L521.9 87.81 L522.2 87.48 L522.5 90.79 L522.8 89.23 L523.1 89.17 L523.4 91.35 L523.7 86.82 L524 90 L524.3 87.98 L524.6 87.56 L524.9 88.48 L525.2 91.36 L525.5 89.6 L525.8 87.25 L526.1 88.36 L526.4 92.2 L526.7 91.55 L527 88.6 L527.3 93.68 L527.6 89.76 L527.9 88.63 L528.2 90.19 L528.5 91.77 L528.8 92.79 L529.1 91.99 L529.4 89.94 L529.7 89.77 L530 88.52 L530.3 90.5 L530.6 89.76 L530.9 90.96 L531.2 88.79 L531.5 89.85 L531.8 89.32 L532.1 88.84 L532.4 88.84 L532.7 89.05 L533 88.79 L533.3 91.26 L533.6 90.55 L533.9 88.48 L534.2 91.07 L534.5 90.7 L534.8 92.34 L535.1 89.92 L535.4 89.86 L535.7 89.12 L536 90.24 L536.3 90.73 L536.6 90.22 L536.9 89.57 L537.2 90.69 L537.5 89.98 L537.8 90.16 L538.1 88.42 L538.4 90.03 L538.7 88.27 L539 88.46 L539.3 89.87 L539.6 92.64 L539.9 91.03 L540.2 89.6 L540.5 89.34 L540.8 91.01 L541.1 91.59 L541.4 91.37 L541.7 89.37 L542 89.93 L542.3 89.21 L542.6 89.3 L542.9 88.52 L543.2 89.42 L543.5 86.73 L543.8 88.14 L544.1 90.5 L544.4 88.6 L544.7 90.73 L545 88.13 L545.3 89.48 L545.6 90.59 L545.9 88.55 L546.2 89.03 L546.5 93.59 L546.8 89.08 L547.1 89.04 L547.4 89.21 L547.7 90.06 L548 89.96 L548.3 91.38 L548.6 91.07 L548.9 89.33 L549.2 89.36 L549.5 87.81 L549.8 87.65 L550.1 88.7 L550.4 90.76 L550.7 89.84 L551 90.77 L551.3 90.92 L551.6 89.29 L551.9 92.48 L552.2 88.67 L552.5 88.47 L552.8 88.7 L553.1 90.89 L553.4 89.01 L553.7 88.1 L554 89.72 L554.3 90.66 L554.6 88.83 L554.9 88.57 L555.2 90.43 L555.5 90.23 L555.8 90.12 L556.1 87.61 L556.4 89.05 L556.7 89.11 L557 85.97 L557.3 90.2 L557.6 88.57 L557.9 87.88 L558.2 91.55 L558.5 88.47 L558.8 87.17 L559.1 88.06 L559.4 88.91 L559.7 89.21 L560 87.92 L560.3 86.71 L560.6 86.9 L560.9 86.68 L561.2 86.28 L561.5 87.7 L561.8 86.97 L562.1 87.68 L562.4 86.36 L562.7 86.24 L563 87.15 L563.3 86.85 L563.6 88.93 L563.9 85.93 L564.2 87.46 L564.5 87.05 L564.8 85.18 L565.1 88.05 L565.4 87.21 L565.7 83.93 L566 87.76 L566.3 88.21 L566.6 85.71 L566.9 89.25 L567.2 87.04 L567.5 85.16 L567.8 87.61 L568.1 86.29 L568.4 84.9 L568.7 83.75 L569 87.18 L569.3 85.79 L569.6 87.78 L569.9 87.44 L570.2 86.16 L570.5 86.17 L570.8 89.48 L571.1 89.42 L571.4 88.09 L571.7 86.54 L572 85.68 L572.3 86.56 L572.6 89.52 L572.9 87.84 L573.2 86.8 L573.5 85.5 L573.8 87.53 L574.1 86.07 L574.4 87.38 L574.7 88.46 L575 88.97 L575.3 87.68 L575.6 87.03 L575.9 87.88 L576.2 90.16 L576.5 88.17 L576.8 85.67 L577.1 89.92 L577.4 88.1 L577.7 92.74 L578 87.14 L578.3 87.71 L578.6 87.45 L578.9 88.44 L579.2 87.11 L579.5 85.85 L579.8 85.24 L580.1 87.83 L580.4 87.29 L580.7 87.22 L581 91.08 L581.3 89.2 L581.6 89.64 L581.9 87.38 L582.2 88.52 L582.5 87.8 L582.8 87.8 L583.1 89.16 L583.4 88.95 L583.7 88.52 L584 88.29 L584.3 86.03 L584.6 87.03 L584.9 88.63 L585.2 87.57 L585.5 86.99 L585.8 88.61 L586.1 86.8 L586.4 87.17 L586.7 89.39 L587 87.64 L587.3 90.2 L587.6 88.92 L587.9 89.35 L588.2 89.82 L588.5 85.16 L588.8 88.14 L589.1 86.43 L589.4 87.63 L589.7 88.16 L590 90.1 L590.3 88.29 L590.6 90.71 L590.9 87.65 L591.2 88.34 L591.5 88.57 L591.8 89.8 L592.1 88.41 L592.4 87.63 L592.7 88.06 L593 86.57 L593.3 90.37 L593.6 89.66 L593.9 89.23 L594.2 89.04 L594.5 87.81 L594.8 88.12 L595.1 89.87 L595.4 87.62 L595.7 87.66 L596 91.03 L596.3 91.02 L596.6 89.25 L596.9 89.62 L597.2 89.15 L597.5 90.93 L597.8 88.3 L598.1 89.07 L598.4 89.66 L598.7 91.04 L599 88.67 L599.3 89.37 L599.6 88.37 L599.9 88.16 L600.2 88.19 L600.5 89.25 L600.8 90.41 L601.1 88.2 L601.4 88.35 L601.7 88.65 L602 89.74 L602.3 90.25 L602.6 87.52 L602.9 89.8 L603.2 87.92 L603.5 90.35 L603.8 88.01 L604.1 87.86 L604.4 88.4 L604.7 89.33 L605 88.04 L605.3 89.75 L605.6 89.68 L605.9 89.61 L606.2 89.89 L606.5 90.75 L606.8 88.51 L607.1 89.56 L607.4 89.53 L607.7 86.7 L608 90.15 L608.3 88.53 L608.6 88.61 L608.9 89.01 L609.2 89.78 L609.5 90.12 L609.8 90.35 L610.1 88.7 L610.4 90.66 L610.7 90.28 L611 89.15 L611.3 89.68 L611.6 90.84 L611.9 90.33 L612.2 90.71 L612.5 89.88 L612.8 91.34 L613.1 92.86 L613.4 90.38 L613.7 87.51 L614 92.18 L614.3 88.96 L614.6 87.82 L614.9 86.44 L615.2 90.36 L615.5 91.3 L615.8 91.18 L616.1 89.24 L616.4 91.8 L616.7 89.67 L617 88.95 L617.3 89.88 L617.6 90.08 L617.9 89.86 L618.2 90.35 L618.5 86.72 L618.8 91.99 L619.1 89 L619.4 90.71 L619.7 88.68 L620 90.03 L620.3 89.56 L620.6 87.59 L620.9 90.35 L621.2 90.7 L621.5 88.26 L621.8 86.89 L622.1 88.92 L622.4 88.65 L622.7 89.99 L623 89.82 L623.3 92.1 L623.6 90.76 L623.9 89.5 L624.2 90.09 L624.5 85.84 L624.8 88.61 L625.1 88.6 L625.4 89.74 L625.7 90.35 L626 90.22 L626.3 91.24 L626.6 88.97 L626.9 90.38 L627.2 89.78 L627.5 90 L627.8 90.44 L628.1 89.61 L628.4 90.32 L628.7 89.99 L629 91.49 L629.3 89.92 L629.6 90.52 L629.9 93.74 L630.2 91 L630.5 90.87 L630.8 91.68 L631.1 88.78 L631.4 91.21 L631.7 91.28 L632 90.87 L632.3 91.64 L632.6 91.4 L632.9 91.99 L633.2 89.46 L633.5 90.98 L633.8 89.64 L634.1 92.16 L634.4 90.64 L634.7 88.66 L635 90.66 L635.3 89.13 L635.6 91.93 L635.9 90.11 L636.2 87.55 L636.5 90.1 L636.8 92.09 L637.1 91.15 L637.4 89.84 L637.7 91.65 L638 91.58 L638.3 92.86 L638.6 92.09 L638.9 91.37 L639.2 89.79 L639.5 91.31 L639.8 91.36 L640.1 90.99 L640.4 91.58 L640.7 89.37 L641 91.85 L641.3 91.09 L641.6 91.6 L641.9 91 L642.2 90.74 L642.5 91.54 L642.8 92.3 L643.1 90.79 L643.4 91.72 L643.7 90.22 L644 91.89 L644.3 91.36 L644.6 89.57 L644.9 93 L645.2 90.17 L645.5 91.54 L645.8 89.62 L646.1 89.06 L646.4 92.41 L646.7 89.56 L647 88.65 L647.3 91.25 L647.6 89.42 L647.9 91.31 L648.2 94.16 L648.5 91.08 L648.8 92.14 L649.1 92.44 L649.4 92.02 L649.7 91.53 L650 93.81 L650.3 91.61 L650.6 92.24 L650.9 91.91 L651.2 89.99 L651.5 92.23 L651.8 91.88 L652.1 92.71 L652.4 92.79 L652.7 94.02 L653 89.22 L653.3 91.09 L653.6 91.22 L653.9 90.69 L654.2 92.48 L654.5 91.81 L654.8 92.12 L655.1 89.68 L655.4 90.63 L655.7 91.87 L656 91.36 L656.3 91.15 L656.6 91.84 L656.9 91.63 L657.2 90.55 L657.5 94.34 L657.8 91.1 L658.1 92.95 L658.4 92.89 L658.7 93.41 L659 91.29 L659.3 90.71 L659.6 92.71 L659.9 92.48 L660.2 88.86 L660.5 88.51 L660.8 91.39 L661.1 91.62 L661.4 91.79 L661.7 92.75 L662 90.84 L662.3 95.86 L662.6 93.45 L662.9 94.01 L663.2 92.6 L663.5 89.36 L663.8 92.57 L664.1 91.49 L664.4 92.88 L664.7 92.12 L665 93.21 L665.3 91.08 L665.6 91.81 L665.9 92.33 L666.2 91.29 L666.5 91.71 L666.8 93.2 L667.1 95.03 L667.4 92.08 L667.7 93.53 L668 90.83 L668.3 91.78 L668.6 92.88 L668.9 93.24 L669.2 91.03 L669.5 93.29 L669.8 92.68 L670.1 94.3 L670.4 93.79 L670.7 93.27 L671 91.98 L671.3 92.9 L671.6 91.37 L671.9 91.42 L672.2 90.03 L672.5 90.79 L672.8 90.85 L673.1 92.47 L673.4 92.77 L673.7 90.78 L674 92.52 L674.3 93.22 L674.6 93.95 L674.9 92.56 L675.2 93 L675.5 92.19 L675.8 94 L676.1 90.59 L676.4 93.08 L676.7 89.56 L677 95.14 L677.3 94.07 L677.6 89.9 L677.9 92.09 L678.2 90.88 L678.5 90.41 L678.8 92.29 L679.1 91.65 L679.4 94.31 L679.7 92.17 L680 91.38 L680.3 92.81 L680.6 93.49 L680.9 94.07 L681.2 93.65 L681.5 90.91 L681.8 91.85" fill="none" stroke="#cc0000" stroke-width="1" stroke-linejoin="round" stroke-linecap="butt" />
<line x1="473.6" y1="23.8" x2="682" y2="23.8" stroke="#111" stroke-width="1.6" stroke-linecap="square"/>
<line x1="473.6" y1="148.6" x2="682" y2="148.6" stroke="#111" stroke-width="1.6" stroke-linecap="square"/>
<line x1="473.6" y1="23.8" x2="473.6" y2="148.6" stroke="#111" stroke-width="1.6" stroke-linecap="square"/>
<line x1="682" y1="23.8" x2="682" y2="148.6" stroke="#111" stroke-width="1.6" stroke-linecap="square"/>
<text x="473.6" y="162.6" font-size="10.7" fill="#111" stroke="#111" text-anchor="middle" >0</text>
<text x="511.5" y="162.6" font-size="10.7" fill="#111" stroke="#111" text-anchor="middle" >10</text>
<text x="549.4" y="162.6" font-size="10.7" fill="#111" stroke="#111" text-anchor="middle" >20</text>
<text x="587.3" y="162.6" font-size="10.7" fill="#111" stroke="#111" text-anchor="middle" >30</text>
<text x="625.2" y="162.6" font-size="10.7" fill="#111" stroke="#111" text-anchor="middle" >40</text>
<text x="663.1" y="162.6" font-size="10.7" fill="#111" stroke="#111" text-anchor="middle" >50</text>
<text x="468.5" y="152.2" font-size="10.7" fill="#111" stroke="#111" text-anchor="end" >-5</text>
<text x="468.5" y="131.4" font-size="10.7" fill="#111" stroke="#111" text-anchor="end" >-4</text>
<text x="468.5" y="110.6" font-size="10.7" fill="#111" stroke="#111" text-anchor="end" >-3</text>
<text x="468.5" y="89.8" font-size="10.7" fill="#111" stroke="#111" text-anchor="end" >-2</text>
<text x="468.5" y="69" font-size="10.7" fill="#111" stroke="#111" text-anchor="end" >-1</text>
<text x="468.5" y="48.2" font-size="10.7" fill="#111" stroke="#111" text-anchor="end" >0</text>
<text x="468.5" y="27.4" font-size="10.7" fill="#111" stroke="#111" text-anchor="end" >1</text>
<text x="578" y="175" font-size="13" fill="#111" stroke="#111" text-anchor="middle" >B[T]</text>
<text x="0" y="0" font-size="13" fill="#111" stroke="#111" text-anchor="start" transform="translate(444.5 118) rotate(-90)" >Δv/v<tspan font-size="9" dy="3">0</tspan><tspan dy="-3" dx="3">(10</tspan><tspan font-size="9" dy="-5">-4</tspan><tspan dy="5">)</tspan></text>
<text x="620" y="45" font-size="13" fill="#111" stroke="#111" text-anchor="start" >1.6K BII<tspan font-style="italic">b</tspan></text>
<text x="548" y="77.6" font-size="13" fill="#cc1a1a" stroke="#cc1a1a" text-anchor="start" >kIIa&#160; uIIc</text>
<text x="545.6" y="118.7" font-size="11.6" fill="#111" stroke="#111" text-anchor="start" >kIIa uIIa</text>
<text x="437.4" y="14.3" font-size="13.8" fill="#111" stroke="#111" text-anchor="start" >b)</text>
<path d="M473.6 183L473.6 188M525.65 183L525.65 188M577.7 183L577.7 188M629.75 183L629.75 188M681.8 183L681.8 188" stroke="#111" stroke-width="1.4" fill="none"/>
<path d="M499.63 183L499.63 186M551.68 183L551.68 186M603.73 183L603.73 186M655.77 183L655.77 186" stroke="#111" stroke-width="1.4" fill="none"/>
<path d="M473.6 298.4L473.6 293.4M525.65 298.4L525.65 293.4M577.7 298.4L577.7 293.4M629.75 298.4L629.75 293.4M681.8 298.4L681.8 293.4" stroke="#111" stroke-width="1.4" fill="none"/>
<path d="M499.63 298.4L499.63 295.4M551.68 298.4L551.68 295.4M603.73 298.4L603.73 295.4M655.77 298.4L655.77 295.4" stroke="#111" stroke-width="1.4" fill="none"/>
<path d="M473.6 298.4L478.6 298.4M473.6 275.32L478.6 275.32M473.6 252.24L478.6 252.24M473.6 229.16L478.6 229.16M473.6 206.08L478.6 206.08M473.6 183L478.6 183" stroke="#111" stroke-width="1.4" fill="none"/>
<path d="M473.6 286.86L476.6 286.86M473.6 263.78L476.6 263.78M473.6 240.7L476.6 240.7M473.6 217.62L476.6 217.62M473.6 194.54L476.6 194.54" stroke="#111" stroke-width="1.4" fill="none"/>
<path d="M681.8 298.4L676.8 298.4M681.8 275.32L676.8 275.32M681.8 252.24L676.8 252.24M681.8 229.16L676.8 229.16M681.8 206.08L676.8 206.08M681.8 183L676.8 183" stroke="#111" stroke-width="1.4" fill="none"/>
<path d="M681.8 286.86L678.8 286.86M681.8 263.78L678.8 263.78M681.8 240.7L678.8 240.7M681.8 217.62L678.8 217.62M681.8 194.54L678.8 194.54" stroke="#111" stroke-width="1.4" fill="none"/>
<line x1="479.7" y1="183" x2="479.7" y2="193.5" stroke="#3c3ccc" stroke-width="0.9" />
<line x1="675.7" y1="183" x2="675.7" y2="193.5" stroke="#3c3ccc" stroke-width="0.9" />
<line x1="482.3" y1="183" x2="482.3" y2="195" stroke="#3c3ccc" stroke-width="0.9" />
<line x1="673.1" y1="183" x2="673.1" y2="195" stroke="#3c3ccc" stroke-width="0.9" />
<line x1="484.8" y1="183" x2="484.8" y2="195.5" stroke="#3c3ccc" stroke-width="0.9" />
<line x1="670.6" y1="183" x2="670.6" y2="195.5" stroke="#3c3ccc" stroke-width="0.9" />
<line x1="476.2" y1="183" x2="476.2" y2="188" stroke="#3c3ccc" stroke-width="0.9" />
<line x1="679.2" y1="183" x2="679.2" y2="188" stroke="#3c3ccc" stroke-width="0.9" />
<line x1="477.8" y1="183" x2="477.8" y2="191" stroke="#3c3ccc" stroke-width="0.9" />
<line x1="677.6" y1="183" x2="677.6" y2="191" stroke="#3c3ccc" stroke-width="0.9" />
<path d="M473.6 185.01 L473.74 185.97 L473.9 183.61 L474.09 183.87 L474.31 185.92 L474.55 188.16 L474.81 186.97 L475.09 185.48 L475.38 186.51 L475.68 187.96 L476 189.75 L476.33 189.03 L476.67 189.09 L477.02 189.78 L477.39 190.81 L477.77 190.18 L478.18 191.69 L478.6 192.59 L479.05 194.92 L479.51 193.35 L480 195.27 L480.52 193.37 L481.07 196.44 L481.65 196.24 L482.26 196.05 L482.88 197.42 L483.5 199.32 L484.14 198.48 L484.77 200.93 L485.39 202.27 L486 203.11 L486.6 203.82 L487.2 200.86 L487.8 203.64 L488.4 203.07 L489 205.87 L489.6 205.48 L490.2 206.38 L490.8 207.36 L491.4 206.67 L492 208.17 L492.6 207.71 L493.2 211.85 L493.8 209.15 L494.4 210.28 L495 208.51 L495.6 209.36 L496.2 210.64 L496.8 213.18 L497.4 213.59 L498 213.41 L498.6 212.66 L499.2 216.27 L499.8 213.02 L500.4 213.65 L501 215.75 L501.6 214.23 L502.2 216.19 L502.8 217.39 L503.4 216.33 L504 217.17 L504.6 216.87 L505.2 216.08 L505.8 212.98 L506.4 215.52 L507 217.09 L507.6 215 L508.2 216.37 L508.8 217.33 L509.4 218.76 L510 215.3 L510.61 216.36 L511.23 217.28 L511.86 217.61 L512.5 215.11 L513.12 219.19 L513.74 215.7 L514.35 218.08 L514.93 216.39 L515.48 217.16 L516 218.78 L516.49 217.59 L516.94 216.9 L517.38 215.51 L517.79 216.04 L518.19 215.14 L518.57 219.67 L518.94 215.21 L519.3 214.03 L519.65 219.59 L520 219.29 L520.34 217.36 L520.66 219.08 L520.97 217.14 L521.27 217.66 L521.56 219.27 L521.85 219.37 L522.13 218.54 L522.42 221.5 L522.7 220.66 L523 220.22 L523.3 218.87 L523.58 220.91 L523.87 220.67 L524.15 221.35 L524.44 222.88 L524.73 221.54 L525.03 223.1 L525.34 224.32 L525.66 224.34 L526 227.5 L526.36 223.02 L526.74 225.95 L527.13 225.33 L527.53 227.63 L527.94 231.88 L528.35 227.49 L528.77 230.25" fill="none" stroke="#3c3ccc" stroke-width="0.8" stroke-linejoin="round" stroke-linecap="butt" />
<path d="M626.22 232.36 L626.63 230.4 L627.05 234.23 L627.46 229.29 L627.87 227.94 L628.27 227.41 L628.66 225.3 L629.04 224.25 L629.4 225.23 L629.74 223.23 L630.06 224.35 L630.37 222.43 L630.67 219.81 L630.96 220.02 L631.25 220.24 L631.53 218.33 L631.82 220.58 L632.1 219.95 L632.4 221.27 L632.7 218.49 L632.98 219.05 L633.27 219.87 L633.55 219.83 L633.84 217.19 L634.13 220.43 L634.43 217.3 L634.74 219.59 L635.06 217.37 L635.4 217.03 L635.75 215.74 L636.1 217.12 L636.46 220.41 L636.83 216.17 L637.21 219.02 L637.61 218.64 L638.02 216.22 L638.46 218.21 L638.91 218.53 L639.4 216.19 L639.92 215.86 L640.47 218.13 L641.05 217.13 L641.66 219.6 L642.28 217.36 L642.9 215.26 L643.54 216.83 L644.17 215.34 L644.79 218.02 L645.4 217.96 L646 216.45 L646.6 215.82 L647.2 218.26 L647.8 216.54 L648.4 218.72 L649 215.69 L649.6 216.61 L650.2 216.16 L650.8 215.36 L651.4 220.32 L652 218.67 L652.6 215.26 L653.2 216.89 L653.8 213 L654.4 216.8 L655 216.18 L655.6 213.82 L656.2 213.39 L656.8 213.77 L657.4 213.63 L658 212.08 L658.6 210.97 L659.2 211.32 L659.8 210.62 L660.4 211.79 L661 210.34 L661.6 210.02 L662.2 206.89 L662.8 208.08 L663.4 207.47 L664 206.68 L664.6 206.58 L665.2 205.65 L665.8 203.28 L666.4 205.92 L667 205.17 L667.6 202.48 L668.2 203.3 L668.8 200.45 L669.4 199.3 L670.01 200.03 L670.63 201.72 L671.26 198.74 L671.9 196.06 L672.53 197.76 L673.14 195.94 L673.75 195.04 L674.33 195.82 L674.88 192.29 L675.4 191.58 L675.89 191.43 L676.35 194.31 L676.8 192.38 L677.22 190.86 L677.63 190.21 L678.01 191.5 L678.38 191.79 L678.73 188.57 L679.07 189.42 L679.4 191.78 L679.72 188.87 L680.02 187.07 L680.31 187.46 L680.59 186.62 L680.85 186.88 L681.09 185.98 L681.31 184.38 L681.5 184.5 L681.66 184.84 L681.8 183.13" fill="none" stroke="#3c3ccc" stroke-width="0.8" stroke-linejoin="round" stroke-linecap="butt" />
<path d="M522.13 219.08 L522.42 219.36 L522.7 219.67 L523 220 L523.3 220.34 L523.58 220.69 L523.87 221.04 L524.15 221.41 L524.44 221.81 L524.73 222.24 L525.03 222.72 L525.34 223.25 L525.66 223.84 L526 224.5 L526.36 225.22 L526.74 225.99 L527.13 226.81 L527.53 227.68 L527.94 228.59 L528.35 229.56 L528.77 230.59 L529.18 231.67 L529.6 232.8 L530 234 L530.4 235.3 L530.82 236.74 L531.23 238.27 L531.65 239.87 L532.06 241.5 L532.47 243.13 L532.87 244.73 L533.26 246.26 L533.64 247.7 L534 249 L534.34 250.19 L534.66 251.32 L534.97 252.4 L535.27 253.41 L535.56 254.38 L535.85 255.29 L536.13 256.15 L536.42 256.98 L536.7 257.76 L537 258.5 L537.3 259.19 L537.58 259.83 L537.87 260.41 L538.15 260.94 L538.44 261.44 L538.73 261.9 L539.03 262.33 L539.34 262.73 L539.66 263.12 L540 263.5 L540.36 263.86 L540.72 264.19 L541.09 264.49 L541.48 264.76 L541.88 265.01 L542.28 265.24 L542.7 265.45 L543.12 265.65 L543.55 265.83 L544 266 L544.46 266.15 L544.94 266.28 L545.43 266.4 L545.93 266.49 L546.44 266.57 L546.95 266.63 L547.47 266.69 L547.98 266.73 L548.5 266.77 L549 266.8 L549.49 266.82 L549.95 266.84 L550.41 266.84 L550.86 266.83 L551.31 266.81 L551.78 266.79 L552.28 266.75 L552.81 266.71 L553.38 266.66 L554 266.6 L554.7 266.53 L555.49 266.46 L556.34 266.37 L557.22 266.28 L558.12 266.18 L559.02 266.07 L559.87 265.95 L560.67 265.84 L561.39 265.72 L562 265.6 L562.51 265.48 L562.93 265.37 L563.29 265.25 L563.59 265.13 L563.86 265.01 L564.09 264.87 L564.31 264.73 L564.52 264.57 L564.75 264.39 L565 264.2 L565.26 263.98 L565.51 263.72 L565.76 263.45 L566 263.16 L566.23 262.86 L566.46 262.56 L566.68 262.26 L566.89 261.98 L567.1 261.73 L567.3 261.5 L567.5 261.29 L567.68 261.08 L567.86 260.87 L568.03 260.67 L568.2 260.49 L568.36 260.33 L568.52 260.19 L568.68 260.09 L568.84 260.02 L569 260 L569.16 260.01 L569.32 260.06 L569.48 260.13 L569.63 260.24 L569.79 260.38 L569.94 260.54 L570.09 260.74 L570.23 260.96 L570.37 261.21 L570.5 261.5 L570.62 261.8 L570.74 262.1 L570.85 262.42 L570.95 262.77 L571.06 263.16 L571.16 263.59 L571.26 264.08 L571.37 264.64 L571.48 265.27 L571.6 266 L571.73 266.84 L571.85 267.78 L571.98 268.82 L572.11 269.93 L572.24 271.09 L572.38 272.29 L572.53 273.5 L572.68 274.7 L572.83 275.87 L573 277 L573.18 278.13 L573.37 279.3 L573.57 280.5 L573.78 281.71 L573.99 282.91 L574.21 284.07 L574.42 285.18 L574.62 286.22 L574.82 287.16 L575 288 L575.17 288.73 L575.34 289.37 L575.5 289.93 L575.65 290.42 L575.8 290.86 L575.95 291.24 L576.09 291.59 L576.23 291.91 L576.36 292.21 L576.5 292.5 L576.63 292.77 L576.76 293.01 L576.88 293.21 L577 293.38 L577.12 293.51 L577.23 293.62 L577.35 293.7 L577.46 293.76 L577.58 293.79 L577.7 293.8 L577.82 293.79 L577.94 293.76 L578.05 293.7 L578.17 293.62 L578.28 293.51 L578.4 293.38 L578.52 293.21 L578.64 293.01 L578.77 292.77 L578.9 292.5 L579.04 292.21 L579.17 291.91 L579.31 291.59 L579.45 291.24 L579.6 290.86 L579.75 290.42 L579.9 289.93 L580.06 289.37 L580.23 288.73 L580.4 288 L580.58 287.16 L580.78 286.22 L580.98 285.18 L581.19 284.07 L581.41 282.91 L581.62 281.71 L581.83 280.5 L582.03 279.3 L582.22 278.13 L582.4 277 L582.57 275.87 L582.72 274.7 L582.87 273.5 L583.02 272.29 L583.16 271.09 L583.29 269.93 L583.42 268.82 L583.55 267.78 L583.67 266.84 L583.8 266 L583.92 265.27 L584.03 264.64 L584.14 264.08 L584.24 263.59 L584.34 263.16 L584.45 262.77 L584.55 262.42 L584.66 262.1 L584.78 261.8 L584.9 261.5 L585.03 261.21 L585.17 260.96 L585.31 260.74 L585.46 260.54 L585.61 260.38 L585.77 260.24 L585.92 260.13 L586.08 260.06 L586.24 260.01 L586.4 260 L586.56 260.02 L586.72 260.09 L586.88 260.19 L587.04 260.33 L587.2 260.49 L587.37 260.67 L587.54 260.87 L587.72 261.08 L587.9 261.29 L588.1 261.5 L588.3 261.73 L588.51 261.98 L588.72 262.26 L588.94 262.56 L589.17 262.86 L589.4 263.16 L589.64 263.45 L589.89 263.72 L590.14 263.98 L590.4 264.2 L590.65 264.39 L590.88 264.57 L591.09 264.73 L591.31 264.87 L591.54 265.01 L591.81 265.13 L592.11 265.25 L592.47 265.37 L592.89 265.48 L593.4 265.6 L594.01 265.72 L594.73 265.84 L595.53 265.95 L596.38 266.07 L597.28 266.18 L598.18 266.28 L599.06 266.37 L599.91 266.46 L600.7 266.53 L601.4 266.6 L602.02 266.66 L602.59 266.71 L603.12 266.75 L603.62 266.79 L604.09 266.81 L604.54 266.83 L604.99 266.84 L605.45 266.84 L605.91 266.82 L606.4 266.8 L606.9 266.77 L607.42 266.73 L607.93 266.69 L608.45 266.63 L608.96 266.57 L609.47 266.49 L609.97 266.4 L610.46 266.28 L610.94 266.15 L611.4 266 L611.85 265.83 L612.28 265.65 L612.71 265.45 L613.12 265.24 L613.53 265.01 L613.92 264.76 L614.31 264.49 L614.68 264.19 L615.05 263.86 L615.4 263.5 L615.74 263.12 L616.06 262.73 L616.37 262.33 L616.67 261.9 L616.96 261.44 L617.25 260.94 L617.53 260.41 L617.82 259.83 L618.1 259.19 L618.4 258.5 L618.7 257.76 L618.98 256.98 L619.27 256.15 L619.55 255.29 L619.84 254.38 L620.13 253.41 L620.43 252.4 L620.74 251.32 L621.06 250.19 L621.4 249 L621.76 247.7 L622.14 246.26 L622.53 244.73 L622.93 243.13 L623.34 241.5 L623.75 239.87 L624.17 238.27 L624.58 236.74 L625 235.3 L625.4 234 L625.8 232.8 L626.22 231.67 L626.63 230.59 L627.05 229.56 L627.46 228.59 L627.87 227.68 L628.27 226.81 L628.66 225.99 L629.04 225.22 L629.4 224.5 L629.74 223.84 L630.06 223.25 L630.37 222.72 L630.67 222.24 L630.96 221.81 L631.25 221.41 L631.53 221.04 L631.82 220.69 L632.1 220.34 L632.4 220 L632.7 219.67 L632.98 219.36" fill="none" stroke="#cc0000" stroke-width="2.1" stroke-linejoin="round" stroke-linecap="butt" />
<path d="M473.5 183.5h1.5v1.5h-1.5zM474.3 184.1h1.5v1.5h-1.5zM473.6 186.3h1.5v1.5h-1.5zM473.7 185.4h1.5v1.5h-1.5zM473.4 184.1h1.5v1.5h-1.5zM474.8 185.1h1.5v1.5h-1.5zM474.2 185.5h1.5v1.5h-1.5zM475.7 187.8h1.5v1.5h-1.5zM474.4 187.5h1.5v1.5h-1.5zM475.2 185.2h1.5v1.5h-1.5zM475.0 187.8h1.5v1.5h-1.5zM474.8 188.2h1.5v1.5h-1.5zM475.5 187.3h1.5v1.5h-1.5zM474.8 188.8h1.5v1.5h-1.5zM475.2 188.2h1.5v1.5h-1.5zM476.2 188.3h1.5v1.5h-1.5zM475.3 185.9h1.5v1.5h-1.5zM475.6 188.6h1.5v1.5h-1.5zM475.8 189.1h1.5v1.5h-1.5zM476.0 188.8h1.5v1.5h-1.5zM475.8 189.5h1.5v1.5h-1.5zM475.6 187.3h1.5v1.5h-1.5zM475.5 189.1h1.5v1.5h-1.5zM475.3 188.4h1.5v1.5h-1.5zM476.2 189.8h1.5v1.5h-1.5zM475.9 189.6h1.5v1.5h-1.5zM476.5 188.9h1.5v1.5h-1.5zM476.6 189.6h1.5v1.5h-1.5zM476.2 189.5h1.5v1.5h-1.5zM476.4 193.0h1.5v1.5h-1.5zM476.9 189.4h1.5v1.5h-1.5zM476.4 190.5h1.5v1.5h-1.5zM477.5 190.8h1.5v1.5h-1.5zM476.7 189.4h1.5v1.5h-1.5zM477.0 191.4h1.5v1.5h-1.5zM477.3 191.2h1.5v1.5h-1.5zM478.7 188.7h1.5v1.5h-1.5zM477.8 191.6h1.5v1.5h-1.5zM477.4 193.4h1.5v1.5h-1.5zM478.1 192.6h1.5v1.5h-1.5zM478.7 194.4h1.5v1.5h-1.5zM478.3 191.5h1.5v1.5h-1.5zM478.1 190.8h1.5v1.5h-1.5zM479.8 192.1h1.5v1.5h-1.5zM478.1 194.0h1.5v1.5h-1.5zM480.0 191.7h1.5v1.5h-1.5zM479.2 191.2h1.5v1.5h-1.5zM478.4 193.1h1.5v1.5h-1.5zM478.9 191.8h1.5v1.5h-1.5zM479.6 194.3h1.5v1.5h-1.5zM479.6 195.8h1.5v1.5h-1.5zM479.6 193.6h1.5v1.5h-1.5zM480.5 197.6h1.5v1.5h-1.5zM481.2 195.8h1.5v1.5h-1.5zM480.4 192.6h1.5v1.5h-1.5zM481.2 194.6h1.5v1.5h-1.5zM481.7 195.0h1.5v1.5h-1.5zM479.8 196.7h1.5v1.5h-1.5zM481.0 194.4h1.5v1.5h-1.5zM481.1 195.4h1.5v1.5h-1.5zM481.3 192.9h1.5v1.5h-1.5zM481.3 196.4h1.5v1.5h-1.5zM480.9 197.9h1.5v1.5h-1.5zM481.6 193.1h1.5v1.5h-1.5zM482.6 195.7h1.5v1.5h-1.5zM482.0 196.2h1.5v1.5h-1.5zM483.1 196.7h1.5v1.5h-1.5zM481.9 195.8h1.5v1.5h-1.5zM482.6 197.9h1.5v1.5h-1.5zM482.1 198.5h1.5v1.5h-1.5zM482.3 197.5h1.5v1.5h-1.5zM483.0 197.8h1.5v1.5h-1.5zM483.0 198.0h1.5v1.5h-1.5zM482.7 198.0h1.5v1.5h-1.5zM483.3 196.0h1.5v1.5h-1.5zM482.5 198.4h1.5v1.5h-1.5zM483.3 198.4h1.5v1.5h-1.5zM483.9 198.8h1.5v1.5h-1.5zM483.3 199.2h1.5v1.5h-1.5zM483.4 201.2h1.5v1.5h-1.5zM484.4 198.7h1.5v1.5h-1.5zM483.7 199.6h1.5v1.5h-1.5zM484.0 197.9h1.5v1.5h-1.5zM484.5 199.3h1.5v1.5h-1.5zM484.8 199.0h1.5v1.5h-1.5zM485.5 202.0h1.5v1.5h-1.5zM483.8 196.5h1.5v1.5h-1.5zM484.3 202.1h1.5v1.5h-1.5zM485.3 200.1h1.5v1.5h-1.5zM485.2 198.3h1.5v1.5h-1.5zM485.3 198.8h1.5v1.5h-1.5zM485.5 200.0h1.5v1.5h-1.5zM485.3 199.9h1.5v1.5h-1.5zM486.0 203.7h1.5v1.5h-1.5zM485.0 202.1h1.5v1.5h-1.5zM485.8 203.5h1.5v1.5h-1.5zM486.7 200.1h1.5v1.5h-1.5zM486.3 203.7h1.5v1.5h-1.5zM487.3 200.8h1.5v1.5h-1.5zM486.1 202.3h1.5v1.5h-1.5zM487.4 203.5h1.5v1.5h-1.5zM487.0 203.1h1.5v1.5h-1.5zM487.3 202.5h1.5v1.5h-1.5zM486.7 203.7h1.5v1.5h-1.5zM487.5 204.1h1.5v1.5h-1.5zM487.5 202.2h1.5v1.5h-1.5zM488.0 204.5h1.5v1.5h-1.5zM488.7 201.4h1.5v1.5h-1.5zM487.7 203.2h1.5v1.5h-1.5zM489.2 200.3h1.5v1.5h-1.5zM488.7 202.7h1.5v1.5h-1.5zM487.9 205.3h1.5v1.5h-1.5zM488.9 199.5h1.5v1.5h-1.5zM488.1 204.4h1.5v1.5h-1.5zM488.6 206.3h1.5v1.5h-1.5zM488.6 204.4h1.5v1.5h-1.5zM488.0 205.8h1.5v1.5h-1.5zM489.3 206.2h1.5v1.5h-1.5zM489.1 208.0h1.5v1.5h-1.5zM489.2 208.1h1.5v1.5h-1.5zM490.6 204.3h1.5v1.5h-1.5zM490.0 204.8h1.5v1.5h-1.5zM489.1 206.8h1.5v1.5h-1.5zM490.2 208.1h1.5v1.5h-1.5zM491.1 203.7h1.5v1.5h-1.5zM490.3 207.0h1.5v1.5h-1.5zM491.0 206.8h1.5v1.5h-1.5zM490.4 206.4h1.5v1.5h-1.5zM491.2 204.9h1.5v1.5h-1.5zM490.4 205.1h1.5v1.5h-1.5zM490.9 209.1h1.5v1.5h-1.5zM491.1 208.3h1.5v1.5h-1.5zM492.2 209.2h1.5v1.5h-1.5zM491.8 207.4h1.5v1.5h-1.5zM491.8 207.3h1.5v1.5h-1.5zM491.6 208.6h1.5v1.5h-1.5zM492.5 207.2h1.5v1.5h-1.5zM491.8 208.1h1.5v1.5h-1.5zM492.4 209.5h1.5v1.5h-1.5zM492.6 208.6h1.5v1.5h-1.5zM491.9 207.9h1.5v1.5h-1.5zM492.7 207.7h1.5v1.5h-1.5zM493.2 208.8h1.5v1.5h-1.5zM492.7 209.6h1.5v1.5h-1.5zM493.8 212.6h1.5v1.5h-1.5zM493.4 208.5h1.5v1.5h-1.5zM494.0 211.9h1.5v1.5h-1.5zM493.5 210.4h1.5v1.5h-1.5zM493.8 210.9h1.5v1.5h-1.5zM493.7 209.1h1.5v1.5h-1.5zM494.0 209.6h1.5v1.5h-1.5zM493.7 209.6h1.5v1.5h-1.5zM494.1 212.9h1.5v1.5h-1.5zM495.3 209.3h1.5v1.5h-1.5zM494.5 210.9h1.5v1.5h-1.5zM494.7 209.6h1.5v1.5h-1.5zM495.4 212.2h1.5v1.5h-1.5zM495.5 212.8h1.5v1.5h-1.5zM495.4 210.6h1.5v1.5h-1.5zM495.4 210.3h1.5v1.5h-1.5zM495.4 213.2h1.5v1.5h-1.5zM496.4 211.0h1.5v1.5h-1.5zM496.2 210.1h1.5v1.5h-1.5zM496.7 211.3h1.5v1.5h-1.5zM496.5 211.2h1.5v1.5h-1.5zM496.0 211.0h1.5v1.5h-1.5zM497.7 210.7h1.5v1.5h-1.5zM496.7 211.7h1.5v1.5h-1.5zM496.9 210.8h1.5v1.5h-1.5zM497.0 211.0h1.5v1.5h-1.5zM497.8 209.2h1.5v1.5h-1.5zM497.3 210.7h1.5v1.5h-1.5zM498.2 211.5h1.5v1.5h-1.5zM498.6 211.8h1.5v1.5h-1.5zM499.1 210.6h1.5v1.5h-1.5zM499.7 211.4h1.5v1.5h-1.5zM498.8 211.9h1.5v1.5h-1.5zM499.0 215.6h1.5v1.5h-1.5zM499.8 212.9h1.5v1.5h-1.5zM499.8 216.2h1.5v1.5h-1.5zM500.1 213.5h1.5v1.5h-1.5zM500.2 214.7h1.5v1.5h-1.5zM499.3 213.4h1.5v1.5h-1.5zM500.4 216.9h1.5v1.5h-1.5zM500.9 214.8h1.5v1.5h-1.5zM500.0 214.0h1.5v1.5h-1.5zM500.2 214.9h1.5v1.5h-1.5zM500.9 215.9h1.5v1.5h-1.5zM501.4 215.0h1.5v1.5h-1.5zM501.7 216.3h1.5v1.5h-1.5zM501.6 214.5h1.5v1.5h-1.5zM502.1 219.4h1.5v1.5h-1.5zM501.9 214.3h1.5v1.5h-1.5zM502.6 213.4h1.5v1.5h-1.5zM502.9 214.0h1.5v1.5h-1.5zM502.6 215.3h1.5v1.5h-1.5zM502.6 216.3h1.5v1.5h-1.5zM503.2 217.0h1.5v1.5h-1.5zM503.7 215.3h1.5v1.5h-1.5zM503.9 216.7h1.5v1.5h-1.5zM503.9 216.2h1.5v1.5h-1.5zM504.5 215.2h1.5v1.5h-1.5zM504.8 216.3h1.5v1.5h-1.5zM504.7 217.4h1.5v1.5h-1.5zM505.9 215.0h1.5v1.5h-1.5zM504.1 217.4h1.5v1.5h-1.5zM504.8 216.2h1.5v1.5h-1.5zM504.5 217.5h1.5v1.5h-1.5zM505.5 214.3h1.5v1.5h-1.5zM506.1 216.1h1.5v1.5h-1.5zM505.5 214.1h1.5v1.5h-1.5zM506.9 215.1h1.5v1.5h-1.5zM506.5 215.5h1.5v1.5h-1.5zM505.9 217.4h1.5v1.5h-1.5zM506.9 216.9h1.5v1.5h-1.5zM506.6 216.8h1.5v1.5h-1.5zM507.3 217.8h1.5v1.5h-1.5zM507.1 216.6h1.5v1.5h-1.5zM507.8 213.6h1.5v1.5h-1.5zM507.7 217.9h1.5v1.5h-1.5zM508.1 216.6h1.5v1.5h-1.5zM508.4 217.6h1.5v1.5h-1.5zM507.3 215.5h1.5v1.5h-1.5zM507.9 214.6h1.5v1.5h-1.5zM509.1 215.2h1.5v1.5h-1.5zM508.8 216.9h1.5v1.5h-1.5zM509.6 214.6h1.5v1.5h-1.5zM508.4 214.1h1.5v1.5h-1.5zM509.6 215.2h1.5v1.5h-1.5zM509.8 217.2h1.5v1.5h-1.5zM510.7 215.1h1.5v1.5h-1.5zM510.1 216.2h1.5v1.5h-1.5zM509.2 216.9h1.5v1.5h-1.5zM511.1 214.8h1.5v1.5h-1.5zM511.0 216.4h1.5v1.5h-1.5zM510.9 215.0h1.5v1.5h-1.5zM510.5 218.5h1.5v1.5h-1.5zM511.8 216.2h1.5v1.5h-1.5zM512.1 215.0h1.5v1.5h-1.5zM512.0 215.5h1.5v1.5h-1.5zM510.6 215.0h1.5v1.5h-1.5zM512.5 216.8h1.5v1.5h-1.5zM512.6 215.9h1.5v1.5h-1.5zM512.7 214.3h1.5v1.5h-1.5zM512.7 218.9h1.5v1.5h-1.5zM513.0 215.4h1.5v1.5h-1.5zM514.2 215.8h1.5v1.5h-1.5zM513.2 215.9h1.5v1.5h-1.5zM513.7 214.6h1.5v1.5h-1.5zM513.7 215.4h1.5v1.5h-1.5zM513.0 216.0h1.5v1.5h-1.5zM514.1 215.2h1.5v1.5h-1.5zM514.1 216.7h1.5v1.5h-1.5zM513.2 216.5h1.5v1.5h-1.5zM515.0 215.8h1.5v1.5h-1.5zM515.0 215.5h1.5v1.5h-1.5zM515.8 215.0h1.5v1.5h-1.5zM516.6 214.7h1.5v1.5h-1.5zM516.2 215.7h1.5v1.5h-1.5zM516.9 216.5h1.5v1.5h-1.5zM515.5 216.2h1.5v1.5h-1.5zM516.1 216.3h1.5v1.5h-1.5zM516.7 215.2h1.5v1.5h-1.5zM516.5 216.1h1.5v1.5h-1.5zM517.1 215.8h1.5v1.5h-1.5zM516.7 216.4h1.5v1.5h-1.5zM517.1 214.6h1.5v1.5h-1.5zM516.9 217.7h1.5v1.5h-1.5zM517.8 215.5h1.5v1.5h-1.5zM517.7 216.1h1.5v1.5h-1.5zM518.3 216.3h1.5v1.5h-1.5zM518.9 216.0h1.5v1.5h-1.5zM518.9 216.6h1.5v1.5h-1.5zM518.6 217.1h1.5v1.5h-1.5zM519.3 216.1h1.5v1.5h-1.5zM519.5 216.5h1.5v1.5h-1.5zM518.7 218.4h1.5v1.5h-1.5zM520.3 215.6h1.5v1.5h-1.5zM520.0 217.3h1.5v1.5h-1.5zM520.0 216.7h1.5v1.5h-1.5zM520.6 217.8h1.5v1.5h-1.5zM520.6 218.3h1.5v1.5h-1.5zM520.3 216.2h1.5v1.5h-1.5zM521.6 219.2h1.5v1.5h-1.5zM520.5 217.5h1.5v1.5h-1.5zM522.6 218.3h1.5v1.5h-1.5zM522.2 219.4h1.5v1.5h-1.5zM521.8 218.1h1.5v1.5h-1.5zM522.7 219.1h1.5v1.5h-1.5zM521.5 218.2h1.5v1.5h-1.5zM522.2 218.1h1.5v1.5h-1.5zM523.5 219.8h1.5v1.5h-1.5zM522.9 219.4h1.5v1.5h-1.5zM522.9 218.2h1.5v1.5h-1.5zM522.4 220.1h1.5v1.5h-1.5zM522.2 219.4h1.5v1.5h-1.5zM522.4 220.7h1.5v1.5h-1.5zM523.7 220.3h1.5v1.5h-1.5zM523.6 220.4h1.5v1.5h-1.5zM522.7 220.2h1.5v1.5h-1.5zM523.3 221.3h1.5v1.5h-1.5zM523.7 221.8h1.5v1.5h-1.5zM523.5 221.8h1.5v1.5h-1.5zM524.1 222.5h1.5v1.5h-1.5zM524.3 222.4h1.5v1.5h-1.5zM523.3 222.4h1.5v1.5h-1.5zM524.4 222.6h1.5v1.5h-1.5zM524.6 221.7h1.5v1.5h-1.5zM525.6 223.7h1.5v1.5h-1.5zM525.0 223.6h1.5v1.5h-1.5zM524.9 224.1h1.5v1.5h-1.5zM524.5 223.8h1.5v1.5h-1.5zM525.3 222.6h1.5v1.5h-1.5zM525.0 224.1h1.5v1.5h-1.5zM524.8 223.5h1.5v1.5h-1.5zM525.3 223.9h1.5v1.5h-1.5zM525.5 224.3h1.5v1.5h-1.5zM525.7 224.1h1.5v1.5h-1.5zM525.7 224.0h1.5v1.5h-1.5zM526.4 224.6h1.5v1.5h-1.5zM526.0 224.8h1.5v1.5h-1.5zM526.3 224.9h1.5v1.5h-1.5zM527.0 225.7h1.5v1.5h-1.5zM526.2 226.4h1.5v1.5h-1.5zM526.8 225.9h1.5v1.5h-1.5zM525.8 226.1h1.5v1.5h-1.5zM526.6 225.8h1.5v1.5h-1.5zM526.7 226.2h1.5v1.5h-1.5zM527.0 226.4h1.5v1.5h-1.5zM526.1 225.6h1.5v1.5h-1.5zM526.3 226.0h1.5v1.5h-1.5zM527.9 227.7h1.5v1.5h-1.5zM527.6 227.4h1.5v1.5h-1.5zM527.4 226.7h1.5v1.5h-1.5zM527.0 226.9h1.5v1.5h-1.5zM527.5 227.8h1.5v1.5h-1.5zM528.0 227.5h1.5v1.5h-1.5zM527.5 228.7h1.5v1.5h-1.5zM527.1 228.5h1.5v1.5h-1.5zM528.1 227.8h1.5v1.5h-1.5zM527.6 228.6h1.5v1.5h-1.5zM527.5 227.8h1.5v1.5h-1.5zM527.5 228.0h1.5v1.5h-1.5zM528.6 229.2h1.5v1.5h-1.5zM527.9 229.2h1.5v1.5h-1.5zM528.0 229.4h1.5v1.5h-1.5zM625.4 231.3h1.5v1.5h-1.5zM625.4 230.8h1.5v1.5h-1.5zM625.8 230.8h1.5v1.5h-1.5zM625.6 230.4h1.5v1.5h-1.5zM625.6 229.2h1.5v1.5h-1.5zM625.4 230.7h1.5v1.5h-1.5zM625.9 229.7h1.5v1.5h-1.5zM625.3 229.3h1.5v1.5h-1.5zM626.5 230.3h1.5v1.5h-1.5zM626.3 228.6h1.5v1.5h-1.5zM625.2 228.8h1.5v1.5h-1.5zM627.2 229.1h1.5v1.5h-1.5zM625.9 228.5h1.5v1.5h-1.5zM626.4 229.0h1.5v1.5h-1.5zM627.3 228.7h1.5v1.5h-1.5zM625.7 228.6h1.5v1.5h-1.5zM627.5 227.5h1.5v1.5h-1.5zM627.0 227.8h1.5v1.5h-1.5zM626.0 226.6h1.5v1.5h-1.5zM626.6 226.9h1.5v1.5h-1.5zM627.2 226.5h1.5v1.5h-1.5zM626.6 226.6h1.5v1.5h-1.5zM627.8 226.5h1.5v1.5h-1.5zM627.8 227.0h1.5v1.5h-1.5zM627.1 226.5h1.5v1.5h-1.5zM627.0 226.2h1.5v1.5h-1.5zM627.8 225.9h1.5v1.5h-1.5zM627.5 225.8h1.5v1.5h-1.5zM627.4 226.3h1.5v1.5h-1.5zM627.0 225.4h1.5v1.5h-1.5zM627.2 224.9h1.5v1.5h-1.5zM627.9 226.2h1.5v1.5h-1.5zM628.0 224.7h1.5v1.5h-1.5zM628.3 224.3h1.5v1.5h-1.5zM627.6 224.8h1.5v1.5h-1.5zM628.6 224.0h1.5v1.5h-1.5zM628.2 224.7h1.5v1.5h-1.5zM628.3 223.3h1.5v1.5h-1.5zM628.2 222.1h1.5v1.5h-1.5zM629.2 223.7h1.5v1.5h-1.5zM629.1 222.3h1.5v1.5h-1.5zM629.4 222.9h1.5v1.5h-1.5zM629.1 223.7h1.5v1.5h-1.5zM629.6 221.7h1.5v1.5h-1.5zM629.0 222.4h1.5v1.5h-1.5zM629.2 221.8h1.5v1.5h-1.5zM629.5 222.1h1.5v1.5h-1.5zM629.3 222.4h1.5v1.5h-1.5zM629.2 221.5h1.5v1.5h-1.5zM629.2 221.4h1.5v1.5h-1.5zM630.4 222.2h1.5v1.5h-1.5zM629.7 220.0h1.5v1.5h-1.5zM629.7 220.5h1.5v1.5h-1.5zM630.8 219.8h1.5v1.5h-1.5zM630.5 221.7h1.5v1.5h-1.5zM630.9 220.7h1.5v1.5h-1.5zM631.1 219.4h1.5v1.5h-1.5zM631.6 221.0h1.5v1.5h-1.5zM631.1 219.6h1.5v1.5h-1.5zM631.0 220.0h1.5v1.5h-1.5zM631.3 220.4h1.5v1.5h-1.5zM631.6 219.5h1.5v1.5h-1.5zM632.2 218.4h1.5v1.5h-1.5zM630.9 219.1h1.5v1.5h-1.5zM631.6 217.5h1.5v1.5h-1.5zM632.0 219.1h1.5v1.5h-1.5zM632.0 219.1h1.5v1.5h-1.5zM632.2 218.1h1.5v1.5h-1.5zM631.5 217.5h1.5v1.5h-1.5zM632.8 218.0h1.5v1.5h-1.5zM632.3 217.9h1.5v1.5h-1.5zM634.8 218.3h1.5v1.5h-1.5zM633.8 216.4h1.5v1.5h-1.5zM633.2 217.0h1.5v1.5h-1.5zM633.7 217.6h1.5v1.5h-1.5zM634.0 216.9h1.5v1.5h-1.5zM634.4 216.8h1.5v1.5h-1.5zM634.5 216.4h1.5v1.5h-1.5zM634.9 217.1h1.5v1.5h-1.5zM635.1 215.7h1.5v1.5h-1.5zM634.8 216.0h1.5v1.5h-1.5zM635.1 216.0h1.5v1.5h-1.5zM635.6 217.7h1.5v1.5h-1.5zM635.8 215.8h1.5v1.5h-1.5zM636.3 216.8h1.5v1.5h-1.5zM636.3 215.5h1.5v1.5h-1.5zM636.5 217.0h1.5v1.5h-1.5zM635.9 216.1h1.5v1.5h-1.5zM636.6 216.8h1.5v1.5h-1.5zM637.9 215.9h1.5v1.5h-1.5zM637.3 216.9h1.5v1.5h-1.5zM638.2 217.9h1.5v1.5h-1.5zM637.6 217.8h1.5v1.5h-1.5zM638.0 216.5h1.5v1.5h-1.5zM637.9 216.5h1.5v1.5h-1.5zM638.1 216.6h1.5v1.5h-1.5zM638.4 216.0h1.5v1.5h-1.5zM638.3 214.8h1.5v1.5h-1.5zM639.2 216.3h1.5v1.5h-1.5zM639.7 215.9h1.5v1.5h-1.5zM639.0 215.7h1.5v1.5h-1.5zM640.7 215.2h1.5v1.5h-1.5zM640.3 216.4h1.5v1.5h-1.5zM640.3 216.2h1.5v1.5h-1.5zM641.1 216.1h1.5v1.5h-1.5zM642.0 215.1h1.5v1.5h-1.5zM641.2 216.0h1.5v1.5h-1.5zM640.5 217.5h1.5v1.5h-1.5zM641.7 216.6h1.5v1.5h-1.5zM642.1 214.7h1.5v1.5h-1.5zM641.9 217.1h1.5v1.5h-1.5zM641.8 215.5h1.5v1.5h-1.5zM642.6 214.9h1.5v1.5h-1.5zM642.0 216.7h1.5v1.5h-1.5zM643.4 217.2h1.5v1.5h-1.5zM643.0 217.4h1.5v1.5h-1.5zM642.7 214.8h1.5v1.5h-1.5zM643.3 215.3h1.5v1.5h-1.5zM643.2 215.5h1.5v1.5h-1.5zM643.4 214.5h1.5v1.5h-1.5zM643.0 216.5h1.5v1.5h-1.5zM644.0 216.0h1.5v1.5h-1.5zM644.3 216.9h1.5v1.5h-1.5zM644.1 214.3h1.5v1.5h-1.5zM644.7 218.7h1.5v1.5h-1.5zM645.0 217.3h1.5v1.5h-1.5zM645.2 215.5h1.5v1.5h-1.5zM645.3 215.9h1.5v1.5h-1.5zM645.2 218.3h1.5v1.5h-1.5zM645.5 215.7h1.5v1.5h-1.5zM645.2 216.3h1.5v1.5h-1.5zM647.1 216.7h1.5v1.5h-1.5zM647.3 216.6h1.5v1.5h-1.5zM646.2 214.7h1.5v1.5h-1.5zM646.3 216.9h1.5v1.5h-1.5zM645.6 216.4h1.5v1.5h-1.5zM647.5 217.0h1.5v1.5h-1.5zM646.1 214.3h1.5v1.5h-1.5zM647.1 213.5h1.5v1.5h-1.5zM647.4 215.0h1.5v1.5h-1.5zM647.9 216.1h1.5v1.5h-1.5zM648.0 216.0h1.5v1.5h-1.5zM648.3 216.4h1.5v1.5h-1.5zM647.6 216.9h1.5v1.5h-1.5zM648.8 214.6h1.5v1.5h-1.5zM648.5 216.9h1.5v1.5h-1.5zM648.6 216.5h1.5v1.5h-1.5zM648.5 216.0h1.5v1.5h-1.5zM650.4 217.7h1.5v1.5h-1.5zM650.3 217.9h1.5v1.5h-1.5zM649.8 216.0h1.5v1.5h-1.5zM650.4 215.7h1.5v1.5h-1.5zM649.5 217.3h1.5v1.5h-1.5zM651.0 216.7h1.5v1.5h-1.5zM651.0 214.7h1.5v1.5h-1.5zM651.1 215.8h1.5v1.5h-1.5zM651.2 215.0h1.5v1.5h-1.5zM651.0 213.8h1.5v1.5h-1.5zM651.5 213.6h1.5v1.5h-1.5zM650.7 214.8h1.5v1.5h-1.5zM651.7 214.4h1.5v1.5h-1.5zM652.6 216.0h1.5v1.5h-1.5zM651.5 214.2h1.5v1.5h-1.5zM652.0 218.8h1.5v1.5h-1.5zM652.2 214.1h1.5v1.5h-1.5zM653.0 215.5h1.5v1.5h-1.5zM652.9 216.7h1.5v1.5h-1.5zM652.4 215.8h1.5v1.5h-1.5zM653.0 216.8h1.5v1.5h-1.5zM654.3 213.9h1.5v1.5h-1.5zM653.9 213.0h1.5v1.5h-1.5zM653.5 214.4h1.5v1.5h-1.5zM653.1 216.1h1.5v1.5h-1.5zM653.8 216.9h1.5v1.5h-1.5zM654.6 212.5h1.5v1.5h-1.5zM654.3 214.1h1.5v1.5h-1.5zM653.8 214.2h1.5v1.5h-1.5zM654.8 211.9h1.5v1.5h-1.5zM655.0 212.4h1.5v1.5h-1.5zM655.9 214.0h1.5v1.5h-1.5zM656.1 210.3h1.5v1.5h-1.5zM656.7 213.1h1.5v1.5h-1.5zM656.3 210.4h1.5v1.5h-1.5zM656.8 212.0h1.5v1.5h-1.5zM656.9 213.5h1.5v1.5h-1.5zM657.8 212.5h1.5v1.5h-1.5zM656.3 212.7h1.5v1.5h-1.5zM656.6 211.7h1.5v1.5h-1.5zM656.8 213.5h1.5v1.5h-1.5zM658.7 208.1h1.5v1.5h-1.5zM657.3 210.6h1.5v1.5h-1.5zM656.9 209.6h1.5v1.5h-1.5zM658.2 211.2h1.5v1.5h-1.5zM657.4 210.8h1.5v1.5h-1.5zM658.8 211.8h1.5v1.5h-1.5zM658.2 209.1h1.5v1.5h-1.5zM658.4 212.7h1.5v1.5h-1.5zM659.4 208.3h1.5v1.5h-1.5zM659.3 209.7h1.5v1.5h-1.5zM658.9 211.0h1.5v1.5h-1.5zM659.3 211.6h1.5v1.5h-1.5zM660.3 208.9h1.5v1.5h-1.5zM660.0 211.9h1.5v1.5h-1.5zM659.7 208.7h1.5v1.5h-1.5zM659.9 210.2h1.5v1.5h-1.5zM659.4 210.1h1.5v1.5h-1.5zM660.1 210.3h1.5v1.5h-1.5zM660.5 213.2h1.5v1.5h-1.5zM660.7 210.6h1.5v1.5h-1.5zM660.9 210.6h1.5v1.5h-1.5zM661.1 205.8h1.5v1.5h-1.5zM660.1 207.0h1.5v1.5h-1.5zM661.1 210.7h1.5v1.5h-1.5zM661.1 209.2h1.5v1.5h-1.5zM661.3 208.8h1.5v1.5h-1.5zM661.5 207.4h1.5v1.5h-1.5zM661.6 205.6h1.5v1.5h-1.5zM662.5 208.0h1.5v1.5h-1.5zM661.7 205.9h1.5v1.5h-1.5zM662.2 207.3h1.5v1.5h-1.5zM662.4 206.5h1.5v1.5h-1.5zM663.4 207.5h1.5v1.5h-1.5zM662.4 207.4h1.5v1.5h-1.5zM663.2 208.0h1.5v1.5h-1.5zM663.0 206.4h1.5v1.5h-1.5zM662.7 206.4h1.5v1.5h-1.5zM663.7 205.3h1.5v1.5h-1.5zM663.8 208.0h1.5v1.5h-1.5zM663.8 206.5h1.5v1.5h-1.5zM664.3 204.8h1.5v1.5h-1.5zM663.7 206.6h1.5v1.5h-1.5zM664.4 206.8h1.5v1.5h-1.5zM663.2 207.1h1.5v1.5h-1.5zM663.9 205.5h1.5v1.5h-1.5zM664.1 205.1h1.5v1.5h-1.5zM664.2 204.9h1.5v1.5h-1.5zM665.0 206.1h1.5v1.5h-1.5zM665.0 203.9h1.5v1.5h-1.5zM664.3 202.2h1.5v1.5h-1.5zM664.8 203.3h1.5v1.5h-1.5zM666.0 202.2h1.5v1.5h-1.5zM665.6 203.9h1.5v1.5h-1.5zM666.2 202.8h1.5v1.5h-1.5zM665.9 203.6h1.5v1.5h-1.5zM666.2 205.7h1.5v1.5h-1.5zM666.0 202.6h1.5v1.5h-1.5zM666.4 200.3h1.5v1.5h-1.5zM667.1 203.9h1.5v1.5h-1.5zM666.4 203.8h1.5v1.5h-1.5zM666.7 204.2h1.5v1.5h-1.5zM668.0 204.2h1.5v1.5h-1.5zM668.0 205.5h1.5v1.5h-1.5zM667.8 202.1h1.5v1.5h-1.5zM667.2 206.2h1.5v1.5h-1.5zM666.4 206.5h1.5v1.5h-1.5zM667.5 201.8h1.5v1.5h-1.5zM667.7 201.5h1.5v1.5h-1.5zM667.7 201.0h1.5v1.5h-1.5zM668.2 201.6h1.5v1.5h-1.5zM667.6 204.8h1.5v1.5h-1.5zM667.8 199.9h1.5v1.5h-1.5zM668.9 198.8h1.5v1.5h-1.5zM668.7 199.8h1.5v1.5h-1.5zM668.0 199.4h1.5v1.5h-1.5zM668.9 200.3h1.5v1.5h-1.5zM670.0 198.2h1.5v1.5h-1.5zM669.2 200.0h1.5v1.5h-1.5zM669.0 200.4h1.5v1.5h-1.5zM669.5 202.0h1.5v1.5h-1.5zM668.9 197.9h1.5v1.5h-1.5zM668.7 198.2h1.5v1.5h-1.5zM669.6 197.3h1.5v1.5h-1.5zM669.1 198.7h1.5v1.5h-1.5zM669.8 197.0h1.5v1.5h-1.5zM670.9 200.9h1.5v1.5h-1.5zM669.8 194.2h1.5v1.5h-1.5zM670.3 198.5h1.5v1.5h-1.5zM671.1 198.2h1.5v1.5h-1.5zM670.5 197.6h1.5v1.5h-1.5zM670.9 196.5h1.5v1.5h-1.5zM671.3 196.9h1.5v1.5h-1.5zM671.3 197.9h1.5v1.5h-1.5zM671.6 194.0h1.5v1.5h-1.5zM671.3 195.9h1.5v1.5h-1.5zM672.0 194.8h1.5v1.5h-1.5zM671.7 199.8h1.5v1.5h-1.5zM671.9 195.2h1.5v1.5h-1.5zM672.0 196.2h1.5v1.5h-1.5zM672.3 196.5h1.5v1.5h-1.5zM672.6 194.4h1.5v1.5h-1.5zM671.6 193.7h1.5v1.5h-1.5zM672.6 196.3h1.5v1.5h-1.5zM672.7 198.9h1.5v1.5h-1.5zM672.9 195.6h1.5v1.5h-1.5zM673.5 195.6h1.5v1.5h-1.5zM673.5 194.2h1.5v1.5h-1.5zM673.5 193.3h1.5v1.5h-1.5zM674.2 194.2h1.5v1.5h-1.5zM673.7 195.7h1.5v1.5h-1.5zM673.3 193.9h1.5v1.5h-1.5zM672.7 195.1h1.5v1.5h-1.5zM674.5 194.2h1.5v1.5h-1.5zM674.2 190.5h1.5v1.5h-1.5zM674.7 192.5h1.5v1.5h-1.5zM673.8 195.8h1.5v1.5h-1.5zM673.5 191.5h1.5v1.5h-1.5zM675.3 194.8h1.5v1.5h-1.5zM674.6 188.1h1.5v1.5h-1.5zM675.0 194.8h1.5v1.5h-1.5zM675.4 191.3h1.5v1.5h-1.5zM675.8 194.0h1.5v1.5h-1.5zM675.6 193.0h1.5v1.5h-1.5zM676.1 191.9h1.5v1.5h-1.5zM676.9 190.9h1.5v1.5h-1.5zM676.1 192.5h1.5v1.5h-1.5zM676.0 190.5h1.5v1.5h-1.5zM676.3 191.6h1.5v1.5h-1.5zM677.0 188.7h1.5v1.5h-1.5zM676.8 189.8h1.5v1.5h-1.5zM676.6 192.5h1.5v1.5h-1.5zM677.0 190.7h1.5v1.5h-1.5zM678.1 188.0h1.5v1.5h-1.5zM676.7 190.9h1.5v1.5h-1.5zM676.3 187.8h1.5v1.5h-1.5zM676.6 189.0h1.5v1.5h-1.5zM676.9 187.5h1.5v1.5h-1.5zM677.3 190.7h1.5v1.5h-1.5zM677.0 189.5h1.5v1.5h-1.5zM678.0 189.0h1.5v1.5h-1.5zM678.4 189.2h1.5v1.5h-1.5zM679.1 188.1h1.5v1.5h-1.5zM679.1 192.8h1.5v1.5h-1.5zM678.5 187.7h1.5v1.5h-1.5zM678.3 189.2h1.5v1.5h-1.5zM677.7 188.2h1.5v1.5h-1.5zM678.6 189.6h1.5v1.5h-1.5zM678.3 187.5h1.5v1.5h-1.5zM678.6 186.9h1.5v1.5h-1.5zM678.5 187.6h1.5v1.5h-1.5zM679.3 188.7h1.5v1.5h-1.5zM679.2 185.3h1.5v1.5h-1.5zM679.3 187.5h1.5v1.5h-1.5zM679.7 185.2h1.5v1.5h-1.5zM679.2 187.9h1.5v1.5h-1.5zM679.8 187.9h1.5v1.5h-1.5zM680.4 186.2h1.5v1.5h-1.5zM679.8 187.3h1.5v1.5h-1.5zM679.9 185.7h1.5v1.5h-1.5zM679.4 187.4h1.5v1.5h-1.5zM679.3 183.3h1.5v1.5h-1.5zM680.3 183.6h1.5v1.5h-1.5zM680.2 183.8h1.5v1.5h-1.5zM680.4 184.8h1.5v1.5h-1.5z" fill="#cc0000"/>
<path d="M473.6 186.6 L473.74 182.93 L473.9 184.99 L474.09 184.67 L474.31 184.37 L474.55 185.22 L474.81 185.79 L475.09 186.82 L475.38 187.93 L475.68 189.21 L476 188.74 L476.33 190.3 L476.67 190.01 L477.02 190.11 L477.39 190.24 L477.77 189.88 L478.18 189.7 L478.6 192.05 L479.05 192.53 L479.51 193.7 L480 194.33 L480.52 193.07 L481.07 194.39 L481.65 194.59 L482.26 197.81 L482.88 197.2 L483.5 198.2 L484.14 197.7 L484.77 197.99 L485.39 199.52 L486 200.8 L486.6 202.18 L487.2 200.55 L487.8 203.47 L488.4 202.8 L489 203.92 L489.6 204.87 L490.2 205.45 L490.8 207.19 L491.4 208.34 L492 208.32 L492.6 207.86 L493.2 209.56 L493.8 210.05 L494.4 211.15 L495 210.95 L495.6 209.2 L496.2 210.68 L496.8 211.56 L497.4 213.57 L498 212.75 L498.6 214.42 L499.2 214.12 L499.8 212.79 L500.4 214.66 L501 215.66 L501.6 215.85 L502.2 213.96 L502.8 216.53" fill="none" stroke="#5a5ad8" stroke-width="0.6" stroke-linejoin="round" stroke-linecap="butt" opacity="0.7"/>
<path d="M652 215.84 L652.6 213.87 L653.2 217.56 L653.8 219.36 L654.4 215.7 L655 216.37 L655.6 215.98 L656.2 214.96 L656.8 214.52 L657.4 214.53 L658 212.24 L658.6 210.1 L659.2 209.42 L659.8 212.06 L660.4 211.31 L661 210.17 L661.6 206.68 L662.2 208.83 L662.8 208.5 L663.4 206.7 L664 206.38 L664.6 209.52 L665.2 207.79 L665.8 206.38 L666.4 205.01 L667 203.31 L667.6 202.69 L668.2 203.34 L668.8 200.6 L669.4 200.7 L670.01 202.44 L670.63 197.89 L671.26 197.82 L671.9 200.46 L672.53 197.9 L673.14 196.92 L673.75 194.9 L674.33 193.45 L674.88 196.21 L675.4 190.62 L675.89 193.99 L676.35 192.06 L676.8 192.08 L677.22 188.92 L677.63 192.26 L678.01 191.33 L678.38 190.41 L678.73 190.06 L679.07 187.23 L679.4 188.73 L679.72 188.62 L680.02 187.36 L680.31 182.8 L680.59 186.27 L680.85 186.05 L681.09 183.96 L681.31 185.07 L681.5 186.29 L681.66 184.14 L681.8 185.72" fill="none" stroke="#5a5ad8" stroke-width="0.6" stroke-linejoin="round" stroke-linecap="butt" opacity="0.7"/>
<line x1="473.6" y1="183" x2="681.8" y2="183" stroke="#111" stroke-width="1.6" stroke-linecap="square"/>
<line x1="473.6" y1="298.4" x2="681.8" y2="298.4" stroke="#111" stroke-width="1.6" stroke-linecap="square"/>
<line x1="473.6" y1="183" x2="473.6" y2="298.4" stroke="#111" stroke-width="1.6" stroke-linecap="square"/>
<line x1="681.8" y1="183" x2="681.8" y2="298.4" stroke="#111" stroke-width="1.6" stroke-linecap="square"/>
<text x="473.6" y="312" font-size="10.7" fill="#111" stroke="#111" text-anchor="middle" >-2</text>
<text x="525.65" y="312" font-size="10.7" fill="#111" stroke="#111" text-anchor="middle" >-1</text>
<text x="577.7" y="312" font-size="10.7" fill="#111" stroke="#111" text-anchor="middle" >0</text>
<text x="629.75" y="312" font-size="10.7" fill="#111" stroke="#111" text-anchor="middle" >1</text>
<text x="681.8" y="312" font-size="10.7" fill="#111" stroke="#111" text-anchor="middle" >2</text>
<text x="468.3" y="302" font-size="10.7" fill="#111" stroke="#111" text-anchor="end" >0.00</text>
<text x="468.3" y="278.92" font-size="10.7" fill="#111" stroke="#111" text-anchor="end" >0.01</text>
<text x="468.3" y="255.84" font-size="10.7" fill="#111" stroke="#111" text-anchor="end" >0.02</text>
<text x="468.3" y="232.76" font-size="10.7" fill="#111" stroke="#111" text-anchor="end" >0.03</text>
<text x="468.3" y="209.68" font-size="10.7" fill="#111" stroke="#111" text-anchor="end" >0.04</text>
<text x="468.3" y="186.6" font-size="10.7" fill="#111" stroke="#111" text-anchor="end" >0.05</text>
<text x="557" y="332.5" font-size="13" fill="#111" stroke="#111" text-anchor="start" >B<tspan font-size="8.6" dy="-5">-1</tspan><tspan dy="5" dx="-0.6"> [T</tspan><tspan font-size="8.6" dy="-5">-1</tspan><tspan dy="5">]</tspan></text>
<text x="0" y="0" font-size="13" fill="#111" stroke="#111" text-anchor="start" transform="translate(434.2 289) rotate(-90)" >σ<tspan font-size="9" dy="3">xx</tspan><tspan dy="-3"> [1/(mOhm cm)]</tspan></text>
<text x="480.5" y="291.4" font-size="13" fill="#111" stroke="#111" text-anchor="start" >2K BII<tspan font-style="italic">b</tspan></text>
<text x="506.5" y="267" font-size="10.7" fill="#111" stroke="#111" text-anchor="start" >n=1</text>
<text x="567" y="235.6" font-size="13" fill="#111" stroke="#111" text-anchor="start" >~7 Tesla</text>
<line x1="517.2" y1="228.6" x2="517.2" y2="255.6" stroke="#111" stroke-width="1.1" />
<path d="M517.2 222.6 L515.4 229.6 L519 229.6 Z" fill="#111"/>
<line x1="586.6" y1="237.6" x2="586.6" y2="251" stroke="#111" stroke-width="1.1" />
<path d="M586.6 257 L584.8 250 L588.4 250 Z" fill="#111"/>
<text x="434.5" y="169" font-size="13.8" fill="#111" stroke="#111" text-anchor="start" >c)</text>
<g transform="translate(0 0.5)">
<path d="M37.4 378.4 L37.9 378.83 L38.55 379.4 L39.33 380.07 L40.2 380.82 L41.13 381.62 L42.1 382.44 L43.06 383.24 L44 384 L44.95 384.75 L45.95 385.53 L46.99 386.33 L48.04 387.12 L49.08 387.91 L50.11 388.66 L51.09 389.36 L52 390 L52.87 390.58 L53.71 391.12 L54.53 391.63 L55.31 392.1 L56.06 392.53 L56.76 392.93 L57.41 393.28 L58 393.6 L58.52 393.87 L58.97 394.1 L59.37 394.28 L59.72 394.43 L60.04 394.54 L60.36 394.64 L60.67 394.72 L61 394.8 L61.33 394.88 L61.64 394.95 L61.93 395.01 L62.22 395.05 L62.51 395.06 L62.82 395.03 L63.14 394.94 L63.5 394.8 L63.89 394.61 L64.29 394.39 L64.72 394.13 L65.16 393.83 L65.61 393.47 L66.07 393.05 L66.53 392.56 L67 392 L67.49 391.31 L68.01 390.48 L68.55 389.55 L69.09 388.58 L69.62 387.6 L70.13 386.68 L70.59 385.87 L71 385.2 L71.35 384.68 L71.65 384.25 L71.91 383.9 L72.15 383.61 L72.37 383.37 L72.58 383.17 L72.78 382.98 L73 382.8 L73.22 382.63 L73.43 382.49 L73.63 382.38 L73.83 382.3 L74.02 382.24 L74.21 382.21 L74.4 382.2 L74.6 382.2 L74.8 382.22 L75 382.25 L75.19 382.3 L75.39 382.38 L75.59 382.48 L75.79 382.61 L75.99 382.79 L76.2 383 L76.4 383.21 L76.58 383.38 L76.76 383.57 L76.95 383.8 L77.16 384.12 L77.39 384.57 L77.67 385.18 L78 386 L78.39 387.07 L78.85 388.36 L79.34 389.82 L79.86 391.41 L80.4 393.07 L80.95 394.75 L81.48 396.41 L82 398 L82.5 399.54 L83 401.1 L83.5 402.67 L84 404.25 L84.5 405.83 L85 407.4 L85.5 408.96 L86 410.5 L86.5 412.04 L87 413.59 L87.5 415.15 L88 416.69 L88.5 418.21 L89 419.69 L89.5 421.12 L90 422.5 L90.51 423.84 L91.02 425.17 L91.54 426.47 L92.06 427.72 L92.57 428.92 L93.07 430.04 L93.55 431.07 L94 432 L94.43 432.82 L94.84 433.54 L95.24 434.17 L95.62 434.73 L95.99 435.22 L96.34 435.65 L96.68 436.04 L97 436.4 L97.3 436.7 L97.57 436.94 L97.82 437.11 L98.06 437.24 L98.29 437.33 L98.52 437.39 L98.76 437.45 L99 437.5 L99.25 437.54 L99.5 437.54 L99.75 437.52 L100 437.49 L100.25 437.44 L100.5 437.39 L100.75 437.34 L101 437.3 L101.25 437.25 L101.5 437.19 L101.75 437.12 L102 437.04 L102.25 436.99 L102.5 436.95 L102.75 436.95 L103 437 L103.25 437.09 L103.5 437.21 L103.75 437.36 L104 437.54 L104.25 437.75 L104.5 437.98 L104.75 438.23 L105 438.5 L105.25 438.8 L105.5 439.12 L105.75 439.47 L106 439.84 L106.25 440.24 L106.5 440.64 L106.75 441.07 L107 441.5 L107.25 441.96 L107.5 442.46 L107.75 442.98 L108 443.52 L108.25 444.05 L108.5 444.57 L108.75 445.06 L109 445.5 L109.24 445.91 L109.48 446.29 L109.71 446.66 L109.94 447 L110.18 447.33 L110.43 447.63 L110.7 447.92 L111 448.2 L111.31 448.43 L111.61 448.59 L111.92 448.72 L112.25 448.84 L112.61 448.98 L113.02 449.17 L113.47 449.44 L114 449.8 L114.61 450.28 L115.29 450.84 L116.03 451.47 L116.81 452.15 L117.62 452.86 L118.43 453.59 L119.23 454.31 L120 455 L120.77 455.7 L121.56 456.43 L122.36 457.18 L123.16 457.94 L123.93 458.67 L124.68 459.37 L125.37 460.02 L126 460.6 L126.57 461.11 L127.09 461.58 L127.57 461.99 L128.01 462.38 L128.42 462.72 L128.8 463.04 L129.16 463.33 L129.5 463.6 L129.81 463.85 L130.07 464.08 L130.3 464.29 L130.51 464.46 L130.7 464.6 L130.89 464.71 L131.09 464.78 L131.3 464.8 L131.51 464.78 L131.71 464.71 L131.9 464.6 L132.09 464.46 L132.3 464.29 L132.53 464.08 L132.79 463.85 L133.1 463.6 L133.44 463.33 L133.8 463.04 L134.18 462.72 L134.59 462.38 L135.03 461.99 L135.51 461.58 L136.03 461.11 L136.6 460.6 L137.23 460.02 L137.92 459.37 L138.67 458.67 L139.44 457.94 L140.24 457.18 L141.04 456.43 L141.83 455.7 L142.6 455 L143.37 454.31 L144.17 453.59 L144.98 452.86 L145.79 452.15 L146.57 451.47 L147.31 450.84 L147.99 450.27 L148.6 449.8 L149.13 449.44 L149.58 449.17 L149.99 448.98 L150.35 448.84 L150.68 448.72 L150.99 448.59 L151.29 448.43 L151.6 448.2 L151.9 447.92 L152.17 447.63 L152.42 447.33 L152.66 447 L152.89 446.66 L153.12 446.29 L153.36 445.91 L153.6 445.5 L153.85 445.06 L154.1 444.57 L154.35 444.05 L154.6 443.52 L154.85 442.98 L155.1 442.46 L155.35 441.96 L155.6 441.5 L155.85 441.07 L156.1 440.64 L156.35 440.24 L156.6 439.84 L156.85 439.47 L157.1 439.12 L157.35 438.8 L157.6 438.5 L157.85 438.23 L158.1 437.98 L158.35 437.75 L158.6 437.54 L158.85 437.36 L159.1 437.21 L159.35 437.09 L159.6 437 L159.85 436.95 L160.1 436.95 L160.35 436.99 L160.6 437.04 L160.85 437.12 L161.1 437.19 L161.35 437.25 L161.6 437.3 L161.85 437.34 L162.1 437.39 L162.35 437.44 L162.6 437.49 L162.85 437.52 L163.1 437.54 L163.35 437.54 L163.6 437.5 L163.84 437.45 L164.08 437.39 L164.31 437.33 L164.54 437.24 L164.78 437.11 L165.03 436.94 L165.3 436.7 L165.6 436.4 L165.92 436.04 L166.26 435.65 L166.61 435.22 L166.98 434.72 L167.36 434.17 L167.76 433.54 L168.17 432.82 L168.6 432 L169.05 431.07 L169.53 430.04 L170.03 428.92 L170.54 427.73 L171.06 426.47 L171.58 425.17 L172.09 423.84 L172.6 422.5 L173.1 421.12 L173.6 419.69 L174.1 418.21 L174.6 416.69 L175.1 415.15 L175.6 413.59 L176.1 412.04 L176.6 410.5 L177.1 408.96 L177.6 407.4 L178.1 405.83 L178.6 404.25 L179.1 402.67 L179.6 401.1 L180.1 399.54 L180.6 398 L181.12 396.41 L181.65 394.75 L182.2 393.07 L182.74 391.41 L183.26 389.82 L183.75 388.36 L184.21 387.07 L184.6 386 L184.93 385.18 L185.21 384.57 L185.44 384.12 L185.65 383.8 L185.84 383.57 L186.02 383.38 L186.2 383.21 L186.4 383 L186.61 382.79 L186.81 382.61 L187.01 382.48 L187.21 382.38 L187.41 382.3 L187.6 382.25 L187.8 382.22 L188 382.2 L188.2 382.2 L188.39 382.21 L188.58 382.24 L188.78 382.3 L188.97 382.38 L189.17 382.49 L189.38 382.63 L189.6 382.8 L189.82 382.98 L190.03 383.17 L190.23 383.37 L190.45 383.61 L190.69 383.9 L190.95 384.25 L191.25 384.68 L191.6 385.2 L192.01 385.87 L192.47 386.68 L192.98 387.6 L193.51 388.57 L194.05 389.55 L194.59 390.48 L195.11 391.31 L195.6 392 L196.07 392.56 L196.53 393.05 L196.99 393.47 L197.44 393.82 L197.88 394.13 L198.31 394.39 L198.71 394.61 L199.1 394.8 L199.46 394.94 L199.78 395.03 L200.09 395.06 L200.38 395.05 L200.67 395.01 L200.96 394.95 L201.27 394.88 L201.6 394.8 L201.93 394.72 L202.24 394.64 L202.56 394.54 L202.88 394.43 L203.23 394.28 L203.63 394.1 L204.08 393.87 L204.6 393.6 L205.19 393.28 L205.84 392.93 L206.54 392.53 L207.29 392.1 L208.07 391.63 L208.89 391.13 L209.73 390.58 L210.6 390 L211.51 389.36 L212.49 388.66 L213.52 387.91 L214.56 387.13 L215.61 386.33 L216.65 385.53 L217.65 384.75 L218.6 384 L219.54 383.24 L220.5 382.44 L221.47 381.62 L222.4 380.82 L223.27 380.07 L224.05 379.4 L224.7 378.83 L225.2 378.4" fill="none" stroke="#cc0000" stroke-width="1.65" stroke-linejoin="round" stroke-linecap="butt" />
<line x1="37.4" y1="360.6" x2="225.2" y2="360.6" stroke="#111" stroke-width="1.6" stroke-linecap="square"/>
<line x1="37.4" y1="476.4" x2="225.2" y2="476.4" stroke="#111" stroke-width="1.6" stroke-linecap="square"/>
<line x1="37.4" y1="360.6" x2="37.4" y2="476.4" stroke="#111" stroke-width="1.6" stroke-linecap="square"/>
<line x1="225.2" y1="360.6" x2="225.2" y2="476.4" stroke="#111" stroke-width="1.6" stroke-linecap="square"/>
<path d="M37.4 360.6L37.4 365.6M131.3 360.6L131.3 365.6M225.2 360.6L225.2 365.6" stroke="#111" stroke-width="1.4" fill="none"/>
<path d="M84.35 360.6L84.35 363.6M178.25 360.6L178.25 363.6" stroke="#111" stroke-width="1.4" fill="none"/>
<path d="M37.4 476.4L37.4 471.4M131.3 476.4L131.3 471.4M225.2 476.4L225.2 471.4" stroke="#111" stroke-width="1.4" fill="none"/>
<path d="M84.35 476.4L84.35 473.4M178.25 476.4L178.25 473.4" stroke="#111" stroke-width="1.4" fill="none"/>
<path d="M37.4 476.4L42.4 476.4M37.4 453.24L42.4 453.24M37.4 430.08L42.4 430.08M37.4 406.92L42.4 406.92M37.4 383.76L42.4 383.76M37.4 360.6L42.4 360.6" stroke="#111" stroke-width="1.4" fill="none"/>
<path d="M37.4 464.82L40.4 464.82M37.4 441.66L40.4 441.66M37.4 418.5L40.4 418.5M37.4 395.34L40.4 395.34M37.4 372.18L40.4 372.18" stroke="#111" stroke-width="1.4" fill="none"/>
<path d="M225.2 476.4L220.2 476.4M225.2 453.24L220.2 453.24M225.2 430.08L220.2 430.08M225.2 406.92L220.2 406.92M225.2 383.76L220.2 383.76M225.2 360.6L220.2 360.6" stroke="#111" stroke-width="1.4" fill="none"/>
<path d="M225.2 464.82L222.2 464.82M225.2 441.66L222.2 441.66M225.2 418.5L222.2 418.5M225.2 395.34L222.2 395.34M225.2 372.18L222.2 372.18" stroke="#111" stroke-width="1.4" fill="none"/>
<text x="37.4" y="489.6" font-size="10.7" fill="#111" stroke="#111" text-anchor="middle" >-2</text>
<text x="131.3" y="489.6" font-size="10.7" fill="#111" stroke="#111" text-anchor="middle" >0</text>
<text x="225.2" y="489.6" font-size="10.7" fill="#111" stroke="#111" text-anchor="middle" >2</text>
<text x="32" y="479.5" font-size="10.7" fill="#111" stroke="#111" text-anchor="end" >0</text>
<text x="32" y="456.34" font-size="10.7" fill="#111" stroke="#111" text-anchor="end" >1</text>
<text x="32" y="433.18" font-size="10.7" fill="#111" stroke="#111" text-anchor="end" >2</text>
<text x="32" y="410.02" font-size="10.7" fill="#111" stroke="#111" text-anchor="end" >3</text>
<text x="32" y="386.86" font-size="10.7" fill="#111" stroke="#111" text-anchor="end" >4</text>
<text x="32" y="363.7" font-size="10.7" fill="#111" stroke="#111" text-anchor="end" >5</text>
<text x="131.3" y="510.6" font-size="13" fill="#111" stroke="#111" text-anchor="middle" >B [T]</text>
<text x="0" y="0" font-size="13" fill="#111" stroke="#111" text-anchor="start" transform="translate(13.3 445.5) rotate(-90)" >ρ<tspan font-size="9" dy="3">xx</tspan><tspan dy="-3"> [mΩ cm]</tspan></text>
<text x="4.8" y="348" font-size="13.8" fill="#111" stroke="#111" text-anchor="start" >d)</text>
<clipPath id="ce"><rect x="262.6" y="360.6" width="187.2" height="115.8"/></clipPath>
<line x1="262.6" y1="474.6" x2="435.6" y2="360.6" stroke="#6c6cff" stroke-width="0.85" />
<g clip-path="url(#ce)">
<path d="M291.6 486 L291.66 485.32 L291.73 484.48 L291.81 483.49 L291.9 482.35 L292.01 481.07 L292.12 479.64 L292.26 478.09 L292.4 476.4 L292.56 474.5 L292.75 472.34 L292.95 470 L293.16 467.55 L293.37 465.05 L293.59 462.58 L293.8 460.21 L294 458 L294.2 455.92 L294.39 453.9 L294.59 451.92 L294.79 449.99 L294.98 448.11 L295.16 446.29 L295.34 444.52 L295.5 442.8 L295.65 441.19 L295.78 439.71 L295.9 438.31 L296.01 436.95 L296.12 435.58 L296.24 434.17 L296.36 432.65 L296.5 431 L296.65 429.22 L296.81 427.37 L296.97 425.44 L297.14 423.45 L297.31 421.4 L297.48 419.31 L297.64 417.17 L297.8 415 L297.95 412.74 L298.1 410.36 L298.25 407.9 L298.39 405.41 L298.54 402.93 L298.69 400.5 L298.84 398.18 L299 396 L299.17 393.91 L299.35 391.83 L299.53 389.8 L299.71 387.86 L299.9 386.02 L300.07 384.33 L300.24 382.81 L300.4 381.5 L300.54 380.42 L300.68 379.56 L300.8 378.88 L300.92 378.34 L301.04 377.9 L301.16 377.53 L301.28 377.17 L301.4 376.8 L301.52 376.43 L301.65 376.11 L301.77 375.85 L301.89 375.63 L302.01 375.45 L302.14 375.32 L302.27 375.24 L302.4 375.2 L302.54 375.21 L302.68 375.27 L302.83 375.38 L302.98 375.53 L303.13 375.72 L303.28 375.95 L303.44 376.21 L303.6 376.5 L303.75 376.76 L303.88 376.97 L304 377.19 L304.12 377.46 L304.28 377.82 L304.46 378.34 L304.7 379.05 L305 380 L305.37 381.22 L305.79 382.67 L306.27 384.31 L306.77 386.09 L307.31 388 L307.87 389.97 L308.43 391.99 L309 394 L309.58 396.1 L310.2 398.36 L310.85 400.72 L311.5 403.12 L312.15 405.51 L312.8 407.83 L313.42 410.01 L314 412 L314.55 413.82 L315.07 415.54 L315.57 417.16 L316.06 418.69 L316.54 420.13 L317.02 421.49 L317.51 422.78 L318 424 L318.51 425.15 L319.05 426.22 L319.59 427.22 L320.12 428.13 L320.65 428.97 L321.14 429.73 L321.6 430.4 L322 431 L322.35 431.49 L322.64 431.86 L322.9 432.13 L323.12 432.33 L323.34 432.48 L323.55 432.61 L323.76 432.75 L324 432.9 L324.25 433.07 L324.5 433.22 L324.75 433.36 L325 433.49 L325.25 433.59 L325.5 433.68 L325.75 433.75 L326 433.8 L326.25 433.83 L326.5 433.83 L326.75 433.81 L327 433.78 L327.25 433.72 L327.5 433.66 L327.75 433.58 L328 433.5 L328.24 433.42 L328.45 433.36 L328.66 433.29 L328.88 433.21 L329.1 433.09 L329.36 432.93 L329.65 432.7 L330 432.4 L330.4 432.04 L330.84 431.64 L331.31 431.19 L331.81 430.69 L332.34 430.13 L332.88 429.5 L333.44 428.79 L334 428 L334.58 427.07 L335.18 426 L335.8 424.83 L336.44 423.6 L337.08 422.36 L337.73 421.15 L338.37 420.01 L339 419 L339.65 418.07 L340.32 417.17 L341.01 416.31 L341.69 415.51 L342.34 414.76 L342.96 414.09 L343.52 413.5 L344 413 L344.39 412.62 L344.71 412.37 L344.97 412.2 L345.19 412.11 L345.38 412.05 L345.57 412.02 L345.77 411.98 L346 411.9 L346.25 411.8 L346.5 411.72 L346.75 411.64 L347 411.57 L347.25 411.51 L347.5 411.46 L347.75 411.42 L348 411.4 L348.25 411.39 L348.5 411.39 L348.75 411.4 L349 411.42 L349.25 411.45 L349.5 411.49 L349.75 411.54 L350 411.6 L350.22 411.65 L350.41 411.67 L350.57 411.69 L350.75 411.73 L350.96 411.8 L351.22 411.92 L351.56 412.11 L352 412.4 L352.57 412.8 L353.27 413.32 L354.04 413.92 L354.88 414.56 L355.72 415.23 L356.55 415.87 L357.32 416.48 L358 417 L358.6 417.46 L359.14 417.9 L359.65 418.31 L360.12 418.69 L360.59 419.06 L361.05 419.39 L361.51 419.71 L362 420 L362.5 420.27 L363 420.5 L363.5 420.72 L364 420.91 L364.5 421.08 L365 421.23 L365.5 421.37 L366 421.5 L366.5 421.62 L367 421.72 L367.5 421.81 L368 421.89 L368.5 421.94 L369 421.98 L369.5 422 L370 422 L370.5 421.97 L371 421.92 L371.5 421.85 L372 421.76 L372.5 421.66 L373 421.55 L373.5 421.42 L374 421.3 L374.45 421.17 L374.81 421.02 L375.15 420.87 L375.5 420.71 L375.91 420.54 L376.44 420.36 L377.12 420.18 L378 420 L379.06 419.8 L380.25 419.58 L381.56 419.35 L383 419.12 L384.56 418.9 L386.25 418.69 L388.06 418.53 L390 418.4 L392.14 418.33 L394.53 418.31 L397.09 418.32 L399.75 418.35 L402.44 418.39 L405.09 418.42 L407.64 418.43 L410 418.4 L412.21 418.33 L414.33 418.22 L416.38 418.09 L418.38 417.95 L420.32 417.82 L422.23 417.71 L424.12 417.63 L426 417.6 L427.88 417.62 L429.74 417.69 L431.59 417.79 L433.4 417.91 L435.16 418.04 L436.86 418.18 L438.47 418.3 L440 418.4 L441.48 418.49 L442.93 418.58 L444.34 418.67 L445.68 418.75 L446.9 418.83 L447.98 418.9 L448.89 418.96 L449.6 419" fill="none" stroke="#cc0000" stroke-width="1.65" stroke-linejoin="round" stroke-linecap="butt" />
</g>
<rect x="300.3" y="445.7" width="4.2" height="4.2" fill="#000"/>
<rect x="323.9" y="430.9" width="4.2" height="4.2" fill="#000"/>
<rect x="346.3" y="416.7" width="4.2" height="4.2" fill="#000"/>
<rect x="366.9" y="401.9" width="4.2" height="4.2" fill="#000"/>
<line x1="262.6" y1="360.6" x2="449.8" y2="360.6" stroke="#111" stroke-width="1.6" stroke-linecap="square"/>
<line x1="262.6" y1="476.4" x2="449.8" y2="476.4" stroke="#111" stroke-width="1.6" stroke-linecap="square"/>
<line x1="262.6" y1="360.6" x2="262.6" y2="476.4" stroke="#111" stroke-width="1.6" stroke-linecap="square"/>
<line x1="449.8" y1="360.6" x2="449.8" y2="476.4" stroke="#111" stroke-width="1.6" stroke-linecap="square"/>
<path d="M262.6 360.6L262.6 365.6M309.4 360.6L309.4 365.6M356.2 360.6L356.2 365.6M403 360.6L403 365.6M449.8 360.6L449.8 365.6" stroke="#111" stroke-width="1.4" fill="none"/>
<path d="M286 360.6L286 363.6M332.8 360.6L332.8 363.6M379.6 360.6L379.6 363.6M426.4 360.6L426.4 363.6" stroke="#111" stroke-width="1.4" fill="none"/>
<path d="M262.6 476.4L262.6 471.4M309.4 476.4L309.4 471.4M356.2 476.4L356.2 471.4M403 476.4L403 471.4M449.8 476.4L449.8 471.4" stroke="#111" stroke-width="1.4" fill="none"/>
<path d="M286 476.4L286 473.4M332.8 476.4L332.8 473.4M379.6 476.4L379.6 473.4M426.4 476.4L426.4 473.4" stroke="#111" stroke-width="1.4" fill="none"/>
<path d="M262.6 476.4L267.6 476.4M262.6 447.45L267.6 447.45M262.6 418.5L267.6 418.5M262.6 389.55L267.6 389.55M262.6 360.6L267.6 360.6" stroke="#111" stroke-width="1.4" fill="none"/>
<path d="M262.6 461.92L265.6 461.92M262.6 432.98L265.6 432.98M262.6 404.02L265.6 404.02M262.6 375.08L265.6 375.08" stroke="#111" stroke-width="1.4" fill="none"/>
<path d="M449.8 476.4L444.8 476.4M449.8 447.45L444.8 447.45M449.8 418.5L444.8 418.5M449.8 389.55L444.8 389.55M449.8 360.6L444.8 360.6" stroke="#111" stroke-width="1.4" fill="none"/>
<path d="M449.8 461.92L446.8 461.92M449.8 432.98L446.8 432.98M449.8 404.02L446.8 404.02M449.8 375.08L446.8 375.08" stroke="#111" stroke-width="1.4" fill="none"/>
<text x="262.6" y="489.6" font-size="10.7" fill="#111" stroke="#111" text-anchor="middle" >0</text>
<text x="309.4" y="489.6" font-size="10.7" fill="#111" stroke="#111" text-anchor="middle" >1</text>
<text x="356.2" y="489.6" font-size="10.7" fill="#111" stroke="#111" text-anchor="middle" >2</text>
<text x="403" y="489.6" font-size="10.7" fill="#111" stroke="#111" text-anchor="middle" >3</text>
<text x="449.8" y="489.6" font-size="10.7" fill="#111" stroke="#111" text-anchor="middle" >4</text>
<text x="257" y="479.5" font-size="10.7" fill="#111" stroke="#111" text-anchor="end" >0</text>
<text x="257" y="450.55" font-size="10.7" fill="#111" stroke="#111" text-anchor="end" >1</text>
<text x="257" y="421.6" font-size="10.7" fill="#111" stroke="#111" text-anchor="end" >2</text>
<text x="257" y="392.65" font-size="10.7" fill="#111" stroke="#111" text-anchor="end" >3</text>
<text x="257" y="363.7" font-size="10.7" fill="#111" stroke="#111" text-anchor="end" >4</text>
<text x="455.6" y="479.5" font-size="10.7" fill="#111" stroke="#111" text-anchor="start" >-1.0</text>
<text x="455.6" y="450.55" font-size="10.7" fill="#111" stroke="#111" text-anchor="start" >-0.5</text>
<text x="455.6" y="421.6" font-size="10.7" fill="#111" stroke="#111" text-anchor="start" >0.0</text>
<text x="455.6" y="392.65" font-size="10.7" fill="#111" stroke="#111" text-anchor="start" >0.5</text>
<text x="455.6" y="363.7" font-size="10.7" fill="#111" stroke="#111" text-anchor="start" >1.0</text>
<text x="335.3" y="510.6" font-size="13" fill="#111" stroke="#111" text-anchor="start" >B<tspan font-size="8.6" dy="-5">-1</tspan><tspan dy="5" dx="-0.6"> [T</tspan><tspan font-size="8.6" dy="-5">-1</tspan><tspan dy="5">]</tspan></text>
<text x="0" y="0" font-size="13" fill="#111" stroke="#111" text-anchor="start" transform="translate(244.3 415.5) rotate(-90)" >n</text>
<text x="0" y="0" font-size="13" fill="#111" stroke="#111" text-anchor="start" transform="translate(489.3 448.3) rotate(-90)" >Δρ [arb.u.]</text>
<text x="243.5" y="349" font-size="13.8" fill="#111" stroke="#111" text-anchor="start" >e)</text>
</g>
<text x="482" y="348.4" font-size="13.8" fill="#111" stroke="#111" text-anchor="start" >f)</text>
<path d="M520.6 364 L524.9 372 L522.4 372 L522.4 416.6 L518.8 416.6 L518.8 372 L516.3 372 Z" fill="#000"/>
<text x="510.2" y="396.8" font-size="13" fill="#000" stroke="#000" text-anchor="start" font-weight="bold" textLength="7.6" lengthAdjust="spacingAndGlyphs">B</text>
<path d="M555 375 L642 361 L666 375 L576 389 Z" fill="#afabab"/>
<path d="M555 375 L576 389 L576 396 L555 382 Z" fill="#4e4e4e"/>
<path d="M576 389 L666 375 L666 382 L576 396 Z" fill="#7c7a7a"/>
<line x1="535.4" y1="391.2" x2="562" y2="387.7" stroke="#70ad47" stroke-width="1.2" />
<path d="M564.6 387.4 L560.6 385.6 L561.1 389.6 Z" fill="#70ad47"/>
<text x="544.2" y="388" font-size="11.5" fill="#70ad47" stroke="#70ad47" text-anchor="start" >I</text>
<line x1="574.6" y1="371" x2="634.6" y2="362" stroke="#c00000" stroke-width="1.4" />
<circle cx="574.6" cy="371" r="2.1" fill="#c00000"/>
<line x1="634.6" y1="362" x2="653.4" y2="376" stroke="#2f5597" stroke-width="1.5" />
<circle cx="634.6" cy="362" r="2.2" fill="#2f5597"/>
<circle cx="653.4" cy="376" r="2.1" fill="#2f5597"/>
<text x="593.8" y="362" font-size="12.6" fill="#c00000" stroke="#c00000" text-anchor="start" >V<tspan font-size="8.3" dy="3" dx="-0.8">xx</tspan></text>
<text x="645.2" y="367" font-size="12.6" fill="#4472c4" stroke="#4472c4" text-anchor="start" >V<tspan font-size="8.3" dy="3.2" dx="-0.8">xy</tspan></text>
<ellipse cx="659.8" cy="443.4" rx="13.9" ry="30.6" transform="rotate(-7 659.8 443.4)" fill="#000"/>
<ellipse cx="658.4" cy="443.4" rx="13.9" ry="30.6" transform="rotate(-7 658.4 443.4)" fill="#4472c4"/>
<path d="M572 446 L647 434.4 L670 450 L575 463.4 Z" fill="#b3afaf"/>
<path d="M575 463.4 L670 450 L669.2 456.4 L576 470.2 Z" fill="#767272"/>
<ellipse cx="565" cy="459" rx="13.7" ry="30.6" transform="rotate(-8 565 459)" fill="#000"/>
<ellipse cx="563.9" cy="459" rx="13.7" ry="30.6" transform="rotate(-8 563.9 459)" fill="#4472c4"/>
<line x1="657.6" y1="441.4" x2="614" y2="447.6" stroke="#c00000" stroke-width="1.4" />
<path d="M611 448 L615.4 445.4 L616 449.6 Z" fill="#c00000"/>
<line x1="657.6" y1="441.4" x2="678.6" y2="456.3" stroke="#70ad47" stroke-width="1.3" />
<path d="M681 458 L676.4 457.2 L678.8 453.9 Z" fill="#70ad47"/>
<text x="629" y="440.6" font-size="13" fill="#c00000" stroke="#c00000" text-anchor="start" >k</text>
<text x="676" y="453" font-size="13" fill="#70ad47" stroke="#70ad47" text-anchor="start" >u</text>
<text x="614.6" y="488.3" font-size="13.5" fill="#4472c4" stroke="#4472c4" text-anchor="start" textLength="69" lengthAdjust="spacingAndGlyphs">Transducers</text>
<line x1="525" y1="472.6" x2="525" y2="442.5" stroke="#000" stroke-width="1.4" />
<path d="M525 439.6 L522.9 444 L527.1 444 Z" fill="#000"/>
<line x1="525" y1="472.6" x2="506.5" y2="479.5" stroke="#000" stroke-width="1.4" />
<path d="M503.6 480.6 L507.2 477.2 L508.6 481.2 Z" fill="#000"/>
<line x1="525" y1="472.6" x2="539.5" y2="482.5" stroke="#000" stroke-width="1.4" />
<path d="M542 484.3 L537.2 483.8 L539.6 480.2 Z" fill="#000"/>
<text x="527.4" y="448.6" font-size="12.5" fill="#000" stroke="#000" text-anchor="start" font-style="italic">b</text>
<text x="505" y="475" font-size="12.5" fill="#000" stroke="#000" text-anchor="start" font-style="italic">a</text>
<text x="536" y="477" font-size="12.5" fill="#000" stroke="#000" text-anchor="start" font-style="italic">c</text>
</svg>
</body></html>
